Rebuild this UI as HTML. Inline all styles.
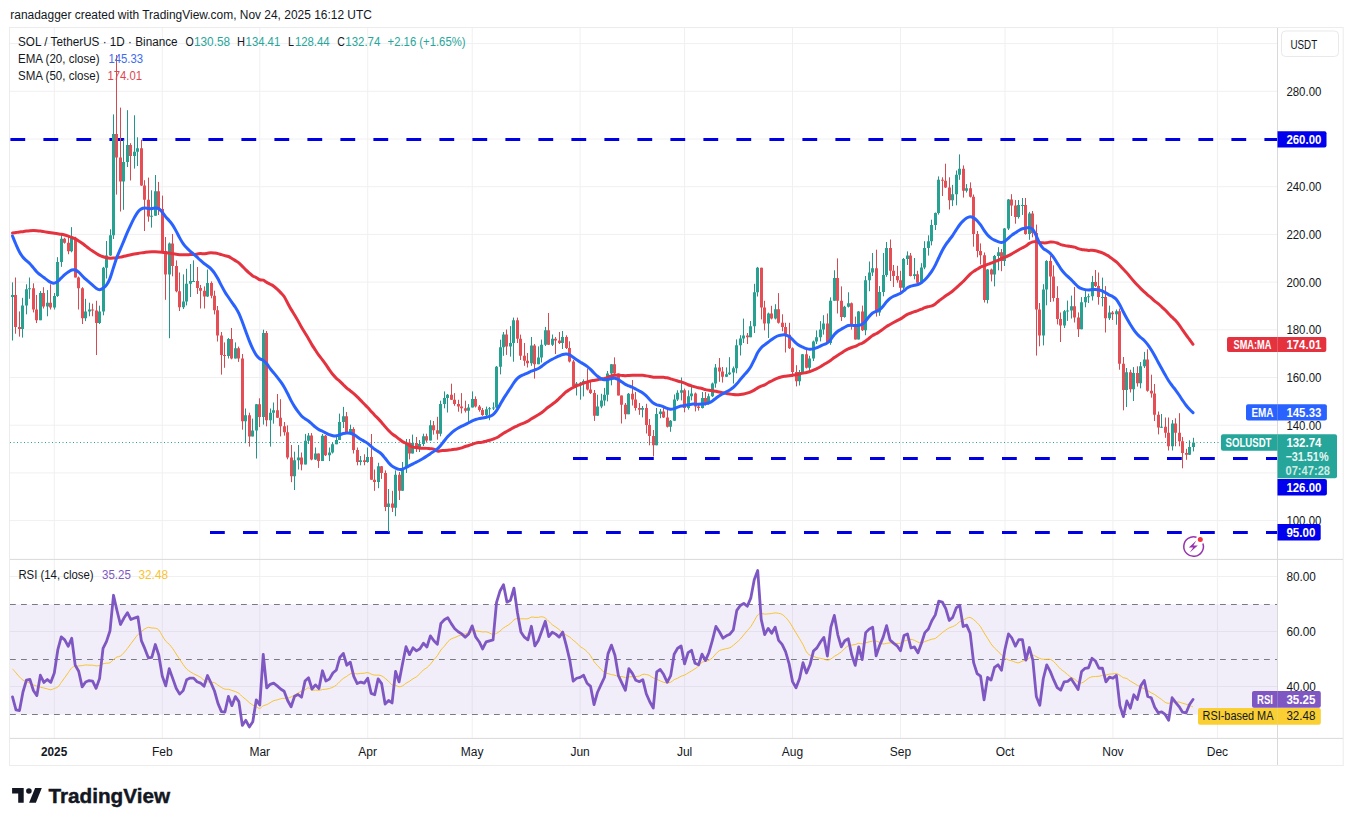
<!DOCTYPE html><html><head><meta charset="utf-8"><style>html,body{margin:0;padding:0;background:#fff;width:1353px;height:826px;overflow:hidden}</style></head><body><svg width="1353" height="826" viewBox="0 0 1353 826" style="display:block;font-family:'Liberation Sans', sans-serif">
<rect width="1353" height="826" fill="#ffffff"/>
<defs><clipPath id="cmain"><rect x="10" y="28" width="1267" height="531"/></clipPath><clipPath id="crsi"><rect x="10" y="560" width="1267" height="178"/></clipPath></defs>
<text x="10.3" y="19.2" font-size="12" fill="#131722" textLength="361.6" lengthAdjust="spacingAndGlyphs">ranadagger created with TradingView.com, Nov 24, 2025 16:12 UTC</text>
<line x1="10" y1="43.6" x2="1277" y2="43.6" stroke="#f0f0f2" stroke-width="1"/>
<line x1="10" y1="91.3" x2="1277" y2="91.3" stroke="#f0f0f2" stroke-width="1"/>
<line x1="10" y1="139.0" x2="1277" y2="139.0" stroke="#f0f0f2" stroke-width="1"/>
<line x1="10" y1="186.7" x2="1277" y2="186.7" stroke="#f0f0f2" stroke-width="1"/>
<line x1="10" y1="234.4" x2="1277" y2="234.4" stroke="#f0f0f2" stroke-width="1"/>
<line x1="10" y1="282.1" x2="1277" y2="282.1" stroke="#f0f0f2" stroke-width="1"/>
<line x1="10" y1="329.8" x2="1277" y2="329.8" stroke="#f0f0f2" stroke-width="1"/>
<line x1="10" y1="377.5" x2="1277" y2="377.5" stroke="#f0f0f2" stroke-width="1"/>
<line x1="10" y1="425.2" x2="1277" y2="425.2" stroke="#f0f0f2" stroke-width="1"/>
<line x1="10" y1="472.9" x2="1277" y2="472.9" stroke="#f0f0f2" stroke-width="1"/>
<line x1="10" y1="520.6" x2="1277" y2="520.6" stroke="#f0f0f2" stroke-width="1"/>
<line x1="10" y1="576.5" x2="1277" y2="576.5" stroke="#f0f0f2" stroke-width="1"/>
<line x1="10" y1="631.5" x2="1277" y2="631.5" stroke="#f0f0f2" stroke-width="1"/>
<line x1="10" y1="686.5" x2="1277" y2="686.5" stroke="#f0f0f2" stroke-width="1"/>
<line x1="54.3" y1="28" x2="54.3" y2="738" stroke="#f0f0f2" stroke-width="1"/>
<line x1="162.3" y1="28" x2="162.3" y2="738" stroke="#f0f0f2" stroke-width="1"/>
<line x1="259.8" y1="28" x2="259.8" y2="738" stroke="#f0f0f2" stroke-width="1"/>
<line x1="367.7" y1="28" x2="367.7" y2="738" stroke="#f0f0f2" stroke-width="1"/>
<line x1="472.2" y1="28" x2="472.2" y2="738" stroke="#f0f0f2" stroke-width="1"/>
<line x1="580.1" y1="28" x2="580.1" y2="738" stroke="#f0f0f2" stroke-width="1"/>
<line x1="684.6" y1="28" x2="684.6" y2="738" stroke="#f0f0f2" stroke-width="1"/>
<line x1="792.5" y1="28" x2="792.5" y2="738" stroke="#f0f0f2" stroke-width="1"/>
<line x1="900.5" y1="28" x2="900.5" y2="738" stroke="#f0f0f2" stroke-width="1"/>
<line x1="1005.0" y1="28" x2="1005.0" y2="738" stroke="#f0f0f2" stroke-width="1"/>
<line x1="1112.9" y1="28" x2="1112.9" y2="738" stroke="#f0f0f2" stroke-width="1"/>
<line x1="1217.4" y1="28" x2="1217.4" y2="738" stroke="#f0f0f2" stroke-width="1"/>
<rect x="10" y="604.5" width="1267.5" height="110" fill="#7e57c2" fill-opacity="0.1"/>
<line x1="10" y1="604.5" x2="1277" y2="604.5" stroke="#787b86" stroke-width="1" stroke-dasharray="5.8,5.2"/>
<line x1="10" y1="659.5" x2="1277" y2="659.5" stroke="#787b86" stroke-width="1" stroke-dasharray="5.8,5.2"/>
<line x1="10" y1="714.5" x2="1277" y2="714.5" stroke="#787b86" stroke-width="1" stroke-dasharray="5.8,5.2"/>
<rect x="9.5" y="27.5" width="1333.7" height="738.0" fill="none" stroke="#ececec" stroke-width="1"/>
<line x1="10" y1="559.4" x2="1343" y2="559.4" stroke="#d9d9db" stroke-width="1"/>
<line x1="10" y1="738.4" x2="1343" y2="738.4" stroke="#d9d9db" stroke-width="1"/>
<line x1="1277.5" y1="28" x2="1277.5" y2="765" stroke="#d9d9db" stroke-width="1"/>
<line x1="10.4" y1="139.5" x2="1277" y2="139.5" stroke="#0000e6" stroke-width="3" stroke-dasharray="14.8,18.2"/>
<line x1="573" y1="458.5" x2="1277" y2="458.5" stroke="#0000e6" stroke-width="3" stroke-dasharray="14.8,18.2"/>
<line x1="210" y1="532.5" x2="1277" y2="532.5" stroke="#0000e6" stroke-width="3" stroke-dasharray="14.8,18.2"/>
<line x1="10" y1="442.5" x2="1277" y2="442.5" stroke="#26a192" stroke-width="1" stroke-dasharray="1,2.5"/>
<g clip-path="url(#cmain)">
<path d="M12.50,282.36V340.50M22.50,297.87V337.60M26.50,284.30V314.34M29.50,277.52V298.84M40.50,291.09V320.16M47.50,290.12V316.28M54.50,293.02V309.50M57.50,257.17V296.90M61.50,234.88V266.86M71.50,227.13V252.33M85.50,298.84V321.12M89.50,302.71V316.28M99.50,305.62V324.03M103.50,266.86V315.31M106.50,241.00V278.50M110.50,229.30V256.00M113.50,114.40V239.00M123.50,139.80V209.80M127.50,110.20V167.00M134.50,115.30V168.60M137.50,137.30V166.00M151.50,190.30V227.60M155.50,175.00V215.80M169.50,242.50V338.20M183.50,274.40V309.00M186.50,268.80V305.40M190.50,264.00V297.00M193.50,260.40V282.00M207.50,269.50V297.00M228.50,338.00V358.50M235.50,342.40V358.50M245.50,408.50V443.20M252.50,418.60V436.40M256.50,404.00V458.50M263.50,329.70V424.60M270.50,408.50V446.60M273.50,402.50V423.70M294.50,451.70V490.00M298.50,445.00V469.50M305.50,433.90V464.40M308.50,433.00V444.00M315.50,447.50V460.00M322.50,434.00V461.10M329.50,447.50V461.10M332.50,442.50V453.50M336.50,435.70V444.20M339.50,413.60V440.00M343.50,406.90V428.00M350.50,424.70V433.10M360.50,456.00V465.30M367.50,447.50V462.70M378.50,462.80V488.20M388.50,489.00V532.00M395.50,470.40V516.20M402.50,462.00V490.80M406.50,439.00V473.00M412.50,434.60V453.50M419.50,440.00V452.00M423.50,433.70V446.00M430.50,420.20V440.50M440.50,400.70V436.30M444.50,391.40V408.30M447.50,394.00V412.50M468.50,404.10V422.70M472.50,391.40V407.50M486.50,406.60V418.50M489.50,407.00V420.20M493.50,402.40V410.00M496.50,366.00V408.00M500.50,339.70V374.40M503.50,332.00V355.80M510.50,326.10V356.60M513.50,317.60V361.70M531.50,337.00V365.80M538.50,346.40V364.20M541.50,339.60V362.50M545.50,326.90V346.00M552.50,334.50V346.00M562.50,331.00V349.00M576.50,382.00V395.50M580.50,382.00V399.70M583.50,379.40V396.40M597.50,394.70V415.80M601.50,393.80V408.20M604.50,387.90V405.70M607.50,371.00V401.40M611.50,364.00V385.30M628.50,393.00V414.20M642.50,406.00V417.40M656.50,408.00V445.30M660.50,409.00V418.20M670.50,420.00V431.80M674.50,394.50V421.00M677.50,390.30V401.00M681.50,377.50V400.40M688.50,390.30V409.70M691.50,386.90V400.40M702.50,392.00V408.50M708.50,393.60V404.60M712.50,382.60V397.00M715.50,364.00V387.70M726.50,367.40V377.00M729.50,357.20V375.00M733.50,366.50V383.50M736.50,339.40V373.30M740.50,335.20V355.50M743.50,318.60V343.00M750.50,321.00V337.20M754.50,283.80V333.00M757.50,266.90V296.50M768.50,312.60V338.00M775.50,304.20V319.40M799.50,370.00V385.50M802.50,354.00V372.80M809.50,355.80V372.00M813.50,340.60V361.00M816.50,330.40V344.00M820.50,321.10V341.40M823.50,315.20V334.60M830.50,297.40V344.80M834.50,270.30V300.80M844.50,305.80V317.70M848.50,292.30V307.50M858.50,311.00V339.50M865.50,276.00V335.20M869.50,261.50V291.20M872.50,253.00V276.00M879.50,286.10V315.80M883.50,253.00V296.30M886.50,242.00V276.80M903.50,258.00V289.50M907.50,251.40V265.00M914.50,258.00V279.30M921.50,263.20V283.00M924.50,241.20V269.20M928.50,235.30V255.60M931.50,219.70V245.40M935.50,212.50V230.00M938.50,176.40V214.60M952.50,184.90V206.10M956.50,170.50V205.30M959.50,154.40V179.80M966.50,184.10V192.50M987.50,269.00V303.40M994.50,255.00V286.40M998.50,247.20V270.30M1004.50,228.00V266.00M1008.50,199.00V230.00M1018.50,200.00V218.60M1022.50,198.00V215.00M1029.50,211.90V239.80M1043.50,284.20V345.40M1046.50,260.20V305.30M1064.50,310.00V328.00M1067.50,300.60V320.90M1071.50,295.60V318.50M1081.50,297.10V329.30M1085.50,290.30V307.30M1088.50,293.70V303.00M1092.50,275.90V300.50M1102.50,277.60V306.40M1109.50,305.60V320.00M1116.50,309.50V324.70M1126.50,368.00V407.00M1133.50,367.10V401.00M1140.50,362.00V388.30M1144.50,351.90V368.00M1161.50,414.00V428.00M1172.50,420.00V450.50M1189.50,440.30V455.00M1193.50,437.80V451.40" stroke="#23958a" stroke-width="1" fill="none"/>
<path d="M15.50,277.52V333.72M19.50,311.43V336.63M33.50,283.33V312.40M36.50,294.96V323.06M43.50,287.21V308.53M50.50,284.30V309.50M64.50,237.79V243.60M68.50,236.82V254.26M75.50,236.82V277.52M78.50,276.55V309.50M82.50,287.21V324.03M92.50,303.68V316.28M96.50,300.78V355.04M116.50,55.00V194.60M120.50,107.60V211.50M130.50,143.20V180.50M141.50,139.80V186.00M144.50,180.20V231.00M148.50,177.60V221.70M158.50,181.90V215.00M162.50,195.60V252.00M165.50,237.00V299.80M172.50,234.00V276.30M176.50,260.40V292.30M179.50,272.50V311.00M197.50,267.00V294.00M200.50,285.00V308.50M204.50,286.40V308.50M211.50,281.40V298.30M214.50,290.70V314.40M217.50,306.00V341.50M221.50,332.00V374.60M224.50,342.40V367.80M231.50,328.00V359.30M238.50,346.60V361.90M242.50,354.00V429.70M249.50,412.70V446.60M259.50,398.30V427.10M266.50,331.00V426.30M277.50,394.00V418.00M280.50,399.20V436.40M284.50,422.00V435.60M287.50,425.40V459.30M291.50,445.00V482.20M301.50,452.50V470.30M311.50,433.10V460.30M318.50,453.50V467.90M325.50,435.00V456.00M346.50,412.00V433.10M353.50,427.20V453.50M357.50,447.50V465.30M364.50,454.30V465.30M371.50,434.00V479.70M374.50,469.50V490.80M381.50,466.00V478.90M385.50,470.40V511.10M392.50,490.80V512.00M399.50,472.00V500.00M409.50,439.00V459.40M416.50,437.00V452.00M426.50,433.70V442.20M433.50,421.00V434.60M437.50,416.80V439.70M451.50,383.70V400.00M454.50,393.10V405.80M458.50,399.80V411.70M461.50,393.10V413.40M465.50,400.70V412.50M475.50,396.40V407.50M479.50,405.00V411.70M482.50,408.00V415.90M506.50,329.50V354.90M517.50,317.60V343.00M520.50,334.60V360.00M524.50,343.00V365.80M527.50,353.00V367.50M534.50,344.00V378.60M548.50,313.00V345.00M555.50,337.00V354.00M559.50,332.00V344.00M566.50,335.30V349.00M569.50,341.30V362.50M573.50,360.00V386.20M587.50,368.40V390.40M590.50,382.00V394.00M594.50,390.00V420.90M614.50,357.40V374.00M618.50,373.50V395.50M621.50,395.50V423.50M625.50,403.00V419.20M632.50,380.00V405.50M635.50,392.00V410.60M639.50,403.00V414.80M646.50,403.80V433.50M649.50,419.00V445.30M653.50,430.00V456.40M663.50,407.20V418.00M667.50,407.20V427.50M684.50,388.60V412.30M695.50,392.50V411.40M698.50,404.60V410.60M705.50,392.00V405.50M719.50,358.00V381.80M722.50,367.00V382.60M747.50,333.00V344.00M761.50,267.70V319.40M764.50,300.80V330.40M771.50,305.80V319.40M778.50,293.10V323.60M782.50,314.30V331.30M785.50,322.80V352.50M789.50,322.80V349.00M792.50,347.40V377.00M796.50,365.20V386.40M806.50,349.90V368.50M827.50,313.50V344.00M837.50,258.40V313.50M841.50,286.40V321.00M851.50,302.50V329.60M855.50,316.60V339.50M862.50,305.60V331.00M876.50,249.70V316.60M890.50,239.50V281.00M893.50,265.00V287.00M897.50,265.80V282.70M900.50,270.80V294.60M910.50,253.00V276.40M917.50,270.80V283.00M942.50,177.30V196.00M945.50,163.70V188.00M949.50,177.30V209.50M963.50,165.40V197.60M970.50,182.40V197.50M973.50,194.50V246.70M977.50,231.00V257.30M980.50,243.40V264.50M984.50,252.50V302.50M991.50,268.60V281.40M1001.50,249.00V271.20M1011.50,194.20V216.00M1015.50,200.00V223.70M1025.50,198.00V234.70M1032.50,211.00V237.30M1036.50,224.60V355.60M1039.50,303.00V346.30M1050.50,256.00V302.00M1053.50,265.30V301.50M1057.50,286.20V324.40M1060.50,312.50V342.00M1074.50,287.00V322.50M1078.50,312.40V337.00M1095.50,270.00V287.00M1098.50,272.50V304.70M1105.50,286.10V332.50M1112.50,311.00V320.00M1119.50,308.60V369.70M1123.50,357.00V410.30M1130.50,369.70V392.50M1137.50,366.30V386.60M1147.50,349.30V391.70M1151.50,374.70V397.60M1154.50,384.00V421.00M1158.50,411.50V434.40M1165.50,417.50V437.80M1168.50,417.50V450.50M1175.50,418.30V446.30M1179.50,413.20V446.30M1182.50,437.00V468.30M1186.50,448.80V459.80" stroke="#d34a50" stroke-width="1" fill="none"/>
<path d="M11.00,294.96h3V296.90h-3ZM21.00,305.62h3V328.88h-3ZM25.00,289.15h3V305.62h-3ZM28.00,288.18h3V289.18h-3ZM39.00,293.02h3V320.16h-3ZM46.00,302.71h3V306.59h-3ZM53.00,295.93h3V307.56h-3ZM56.00,262.02h3V295.93h-3ZM60.00,238.76h3V262.02h-3ZM70.00,237.79h3V251.36h-3ZM84.00,311.43h3V318.22h-3ZM88.00,309.50h3V311.43h-3ZM98.00,311.43h3V323.06h-3ZM102.00,267.83h3V311.43h-3ZM105.00,255.60h3V267.83h-3ZM109.00,235.30h3V255.60h-3ZM112.00,133.90h3V235.30h-3ZM122.00,161.90h3V181.40h-3ZM126.00,144.90h3V161.90h-3ZM133.00,151.70h3V155.90h-3ZM136.00,148.30h3V151.70h-3ZM150.00,215.80h3V216.80h-3ZM154.00,191.20h3V215.80h-3ZM168.00,243.50h3V274.40h-3ZM182.00,301.60h3V307.30h-3ZM185.00,283.80h3V301.60h-3ZM189.00,281.00h3V283.80h-3ZM192.00,281.00h3V282.00h-3ZM206.00,283.00h3V296.60h-3ZM227.00,339.00h3V355.90h-3ZM234.00,348.30h3V358.50h-3ZM244.00,415.30h3V421.20h-3ZM251.00,430.50h3V436.40h-3ZM255.00,404.20h3V430.50h-3ZM262.00,333.00h3V417.00h-3ZM269.00,412.70h3V420.30h-3ZM272.00,410.20h3V412.70h-3ZM293.00,460.20h3V476.30h-3ZM297.00,457.60h3V460.20h-3ZM304.00,440.70h3V464.40h-3ZM307.00,435.60h3V440.70h-3ZM314.00,453.50h3V459.40h-3ZM321.00,435.70h3V461.10h-3ZM328.00,452.60h3V455.20h-3ZM331.00,444.20h3V452.60h-3ZM335.00,439.90h3V444.20h-3ZM338.00,422.10h3V439.90h-3ZM342.00,416.20h3V422.10h-3ZM349.00,428.90h3V433.10h-3ZM359.00,460.30h3V462.00h-3ZM366.00,456.90h3V462.00h-3ZM377.00,466.20h3V482.00h-3ZM387.00,503.50h3V506.90h-3ZM394.00,474.70h3V507.70h-3ZM401.00,467.90h3V490.80h-3ZM405.00,442.50h3V467.90h-3ZM411.00,443.00h3V453.50h-3ZM418.00,444.00h3V447.00h-3ZM422.00,436.30h3V444.00h-3ZM429.00,425.30h3V440.50h-3ZM439.00,404.10h3V433.70h-3ZM443.00,398.10h3V404.10h-3ZM446.00,394.70h3V398.10h-3ZM467.00,407.50h3V410.80h-3ZM471.00,399.00h3V407.50h-3ZM485.00,409.20h3V415.10h-3ZM488.00,408.30h3V409.30h-3ZM492.00,407.50h3V408.50h-3ZM495.00,366.80h3V407.50h-3ZM499.00,347.30h3V366.80h-3ZM502.00,334.60h3V347.30h-3ZM509.00,343.00h3V346.40h-3ZM512.00,320.20h3V343.00h-3ZM530.00,345.50h3V363.30h-3ZM537.00,357.40h3V364.20h-3ZM540.00,344.70h3V357.40h-3ZM544.00,330.30h3V344.70h-3ZM551.00,338.70h3V344.70h-3ZM561.00,337.00h3V343.00h-3ZM575.00,383.60h3V386.20h-3ZM579.00,382.80h3V383.80h-3ZM582.00,381.10h3V382.80h-3ZM596.00,406.50h3V415.80h-3ZM600.00,400.60h3V406.50h-3ZM603.00,394.70h3V400.60h-3ZM606.00,373.50h3V394.70h-3ZM610.00,364.20h3V373.50h-3ZM627.00,393.80h3V414.20h-3ZM641.00,408.00h3V409.70h-3ZM655.00,414.00h3V445.30h-3ZM659.00,411.40h3V414.00h-3ZM669.00,420.80h3V426.70h-3ZM673.00,399.60h3V420.80h-3ZM676.00,392.80h3V399.60h-3ZM680.00,390.30h3V392.80h-3ZM687.00,396.20h3V408.00h-3ZM690.00,393.60h3V396.20h-3ZM701.00,397.90h3V408.00h-3ZM707.00,396.20h3V403.80h-3ZM711.00,383.50h3V396.20h-3ZM714.00,367.40h3V383.50h-3ZM725.00,374.20h3V376.70h-3ZM728.00,372.50h3V374.20h-3ZM732.00,368.20h3V372.50h-3ZM735.00,345.30h3V368.20h-3ZM739.00,338.60h3V345.30h-3ZM742.00,335.50h3V338.60h-3ZM749.00,326.20h3V337.20h-3ZM753.00,292.30h3V326.20h-3ZM756.00,267.70h3V292.30h-3ZM767.00,313.50h3V323.60h-3ZM774.00,309.20h3V318.60h-3ZM798.00,372.00h3V381.30h-3ZM801.00,354.20h3V372.00h-3ZM808.00,358.40h3V367.70h-3ZM812.00,341.40h3V358.40h-3ZM815.00,337.20h3V341.40h-3ZM819.00,329.60h3V337.20h-3ZM822.00,323.60h3V329.60h-3ZM829.00,300.80h3V343.10h-3ZM833.00,277.90h3V300.80h-3ZM843.00,306.70h3V316.90h-3ZM847.00,303.30h3V306.70h-3ZM857.00,311.50h3V339.50h-3ZM864.00,280.20h3V330.20h-3ZM868.00,272.50h3V280.20h-3ZM871.00,268.30h3V272.50h-3ZM878.00,292.00h3V312.40h-3ZM882.00,275.10h3V292.00h-3ZM885.00,248.00h3V275.10h-3ZM902.00,259.00h3V287.80h-3ZM906.00,255.60h3V259.00h-3ZM913.00,274.20h3V276.00h-3ZM920.00,267.50h3V282.70h-3ZM923.00,248.00h3V267.50h-3ZM927.00,241.20h3V248.00h-3ZM930.00,225.10h3V241.20h-3ZM934.00,212.90h3V225.10h-3ZM937.00,179.80h3V212.90h-3ZM951.00,194.20h3V200.20h-3ZM955.00,174.70h3V194.20h-3ZM958.00,168.80h3V174.70h-3ZM965.00,188.30h3V190.80h-3ZM986.00,269.50h3V300.00h-3ZM993.00,256.00h3V274.60h-3ZM997.00,252.20h3V256.00h-3ZM1003.00,228.50h3V261.10h-3ZM1007.00,199.50h3V228.50h-3ZM1017.00,205.10h3V216.90h-3ZM1021.00,205.10h3V206.10h-3ZM1028.00,213.60h3V233.90h-3ZM1042.00,289.50h3V335.40h-3ZM1045.00,261.00h3V289.50h-3ZM1063.00,311.30h3V325.60h-3ZM1066.00,310.50h3V311.50h-3ZM1070.00,306.20h3V310.50h-3ZM1080.00,302.20h3V329.30h-3ZM1084.00,297.10h3V302.20h-3ZM1087.00,296.30h3V297.30h-3ZM1091.00,281.90h3V296.30h-3ZM1101.00,297.10h3V298.10h-3ZM1108.00,312.60h3V318.20h-3ZM1115.00,311.20h3V314.30h-3ZM1125.00,372.20h3V390.00h-3ZM1132.00,373.00h3V389.20h-3ZM1139.00,366.30h3V383.20h-3ZM1143.00,359.50h3V366.30h-3ZM1160.00,426.80h3V427.80h-3ZM1171.00,423.40h3V446.30h-3ZM1188.00,447.10h3V454.70h-3ZM1192.00,442.50h3V447.10h-3Z" fill="#26a192"/>
<path d="M14.00,294.96h3V326.94h-3ZM18.00,326.94h3V328.88h-3ZM32.00,288.18h3V309.50h-3ZM35.00,309.50h3V320.16h-3ZM42.00,293.02h3V306.59h-3ZM49.00,302.71h3V307.56h-3ZM63.00,238.76h3V242.64h-3ZM67.00,242.64h3V251.36h-3ZM74.00,237.79h3V277.52h-3ZM77.00,277.52h3V288.18h-3ZM81.00,288.18h3V318.22h-3ZM91.00,309.50h3V310.50h-3ZM95.00,310.47h3V323.06h-3ZM115.00,133.90h3V157.60h-3ZM119.00,157.60h3V181.40h-3ZM129.00,144.90h3V155.90h-3ZM140.00,148.30h3V185.60h-3ZM143.00,185.60h3V199.70h-3ZM147.00,199.70h3V216.60h-3ZM157.00,191.20h3V209.00h-3ZM161.00,209.00h3V251.00h-3ZM164.00,251.00h3V274.40h-3ZM171.00,243.50h3V266.00h-3ZM175.00,266.00h3V291.30h-3ZM178.00,291.30h3V307.30h-3ZM196.00,281.00h3V288.10h-3ZM199.00,288.10h3V290.70h-3ZM203.00,290.70h3V296.60h-3ZM210.00,283.00h3V295.80h-3ZM213.00,295.80h3V310.20h-3ZM216.00,310.20h3V335.60h-3ZM220.00,335.60h3V355.00h-3ZM223.00,355.00h3V356.00h-3ZM230.00,339.00h3V358.50h-3ZM237.00,348.30h3V358.50h-3ZM241.00,358.50h3V421.20h-3ZM248.00,415.30h3V436.40h-3ZM258.00,404.20h3V417.00h-3ZM265.00,333.00h3V420.30h-3ZM276.00,410.20h3V417.80h-3ZM279.00,417.80h3V426.30h-3ZM283.00,426.30h3V432.20h-3ZM286.00,432.20h3V457.60h-3ZM290.00,457.60h3V476.30h-3ZM300.00,457.60h3V464.40h-3ZM310.00,435.60h3V459.40h-3ZM317.00,453.50h3V461.10h-3ZM324.00,435.70h3V455.20h-3ZM345.00,416.20h3V433.10h-3ZM352.00,428.90h3V450.10h-3ZM356.00,450.10h3V462.00h-3ZM363.00,460.30h3V462.00h-3ZM370.00,456.90h3V479.70h-3ZM373.00,479.70h3V482.00h-3ZM380.00,466.20h3V473.00h-3ZM384.00,473.00h3V506.90h-3ZM391.00,503.50h3V507.70h-3ZM398.00,474.70h3V490.80h-3ZM408.00,442.50h3V453.50h-3ZM415.00,443.00h3V447.00h-3ZM425.00,436.30h3V440.50h-3ZM432.00,425.30h3V430.30h-3ZM436.00,430.30h3V433.70h-3ZM450.00,394.70h3V399.80h-3ZM453.00,399.80h3V404.10h-3ZM457.00,404.10h3V406.60h-3ZM460.00,406.60h3V408.30h-3ZM464.00,408.30h3V410.80h-3ZM474.00,399.00h3V406.60h-3ZM478.00,406.60h3V410.00h-3ZM481.00,410.00h3V415.10h-3ZM505.00,334.60h3V346.40h-3ZM516.00,320.20h3V338.80h-3ZM519.00,338.80h3V355.80h-3ZM523.00,355.80h3V360.80h-3ZM526.00,360.80h3V363.30h-3ZM533.00,345.50h3V364.20h-3ZM547.00,330.30h3V344.70h-3ZM554.00,338.70h3V340.40h-3ZM558.00,340.40h3V343.00h-3ZM565.00,337.00h3V348.00h-3ZM568.00,348.00h3V361.60h-3ZM572.00,361.60h3V386.20h-3ZM586.00,381.10h3V389.60h-3ZM589.00,389.60h3V393.00h-3ZM593.00,393.00h3V415.80h-3ZM613.00,364.20h3V373.50h-3ZM617.00,373.50h3V395.50h-3ZM620.00,395.50h3V404.80h-3ZM624.00,404.80h3V414.20h-3ZM631.00,393.80h3V399.60h-3ZM634.00,399.60h3V408.00h-3ZM638.00,408.00h3V409.70h-3ZM645.00,408.00h3V425.00h-3ZM648.00,425.00h3V436.00h-3ZM652.00,436.00h3V445.30h-3ZM662.00,411.40h3V417.40h-3ZM666.00,417.40h3V426.70h-3ZM683.00,390.30h3V408.00h-3ZM694.00,393.60h3V406.40h-3ZM697.00,406.40h3V408.00h-3ZM704.00,397.90h3V403.80h-3ZM718.00,367.40h3V371.60h-3ZM721.00,371.60h3V376.70h-3ZM746.00,335.50h3V337.20h-3ZM760.00,267.70h3V307.50h-3ZM763.00,307.50h3V323.60h-3ZM770.00,313.50h3V318.60h-3ZM777.00,309.20h3V322.80h-3ZM781.00,322.80h3V327.00h-3ZM784.00,327.00h3V334.70h-3ZM788.00,334.70h3V348.20h-3ZM791.00,348.20h3V372.00h-3ZM795.00,372.00h3V381.30h-3ZM805.00,354.20h3V367.70h-3ZM826.00,323.60h3V343.10h-3ZM836.00,277.90h3V300.80h-3ZM840.00,300.80h3V316.90h-3ZM850.00,303.30h3V324.50h-3ZM854.00,324.50h3V339.50h-3ZM861.00,311.50h3V330.20h-3ZM875.00,268.30h3V312.40h-3ZM889.00,248.00h3V270.80h-3ZM892.00,270.80h3V276.00h-3ZM896.00,276.00h3V280.20h-3ZM899.00,280.20h3V287.80h-3ZM909.00,255.60h3V276.00h-3ZM916.00,274.20h3V282.70h-3ZM941.00,179.80h3V180.80h-3ZM944.00,180.70h3V187.50h-3ZM948.00,187.50h3V200.20h-3ZM962.00,168.80h3V190.80h-3ZM969.00,188.30h3V196.80h-3ZM972.00,196.80h3V233.90h-3ZM976.00,233.90h3V250.90h-3ZM979.00,250.90h3V255.20h-3ZM983.00,255.20h3V300.00h-3ZM990.00,269.50h3V274.60h-3ZM1000.00,252.20h3V261.10h-3ZM1010.00,199.50h3V205.50h-3ZM1014.00,205.50h3V216.90h-3ZM1024.00,205.10h3V233.90h-3ZM1031.00,213.60h3V233.00h-3ZM1035.00,233.00h3V309.60h-3ZM1038.00,309.60h3V335.40h-3ZM1049.00,261.00h3V276.60h-3ZM1052.00,276.60h3V298.10h-3ZM1056.00,298.10h3V318.90h-3ZM1059.00,318.90h3V325.60h-3ZM1073.00,306.20h3V317.50h-3ZM1077.00,317.50h3V329.30h-3ZM1094.00,281.90h3V286.10h-3ZM1097.00,286.10h3V297.10h-3ZM1104.00,297.10h3V318.20h-3ZM1111.00,312.60h3V314.30h-3ZM1118.00,311.20h3V363.70h-3ZM1122.00,363.70h3V390.00h-3ZM1129.00,372.20h3V389.20h-3ZM1136.00,373.00h3V383.20h-3ZM1146.00,359.50h3V390.80h-3ZM1150.00,390.80h3V393.40h-3ZM1153.00,393.40h3V414.80h-3ZM1157.00,414.80h3V427.60h-3ZM1164.00,426.80h3V432.70h-3ZM1167.00,432.70h3V446.30h-3ZM1174.00,423.40h3V432.70h-3ZM1178.00,432.70h3V441.20h-3ZM1181.00,441.20h3V453.00h-3ZM1185.00,453.00h3V454.70h-3Z" fill="#e54e54"/>
</g>
<path d="M12.51,233.09 C13.09,233.00 14.83,232.72 15.99,232.54 C17.16,232.35 18.32,232.13 19.48,231.99 C20.64,231.84 21.80,231.83 22.96,231.67 C24.12,231.52 25.28,231.22 26.44,231.05 C27.60,230.88 28.76,230.76 29.92,230.67 C31.08,230.59 32.25,230.54 33.41,230.54 C34.57,230.54 35.73,230.57 36.89,230.65 C38.05,230.73 39.21,230.85 40.37,231.01 C41.53,231.16 42.69,231.40 43.85,231.61 C45.01,231.81 46.17,232.01 47.34,232.21 C48.50,232.41 49.66,232.60 50.82,232.78 C51.98,232.96 53.14,233.14 54.30,233.30 C55.46,233.47 56.62,233.61 57.78,233.77 C58.94,233.94 60.10,234.07 61.26,234.29 C62.43,234.50 63.59,234.75 64.75,235.05 C65.91,235.35 67.07,235.69 68.23,236.07 C69.39,236.45 70.55,236.87 71.71,237.34 C72.87,237.82 74.03,238.34 75.19,238.93 C76.35,239.53 77.52,240.18 78.68,240.90 C79.84,241.62 81.00,242.42 82.16,243.25 C83.32,244.08 84.48,245.00 85.64,245.89 C86.80,246.78 87.96,247.73 89.12,248.59 C90.28,249.46 91.44,250.28 92.61,251.08 C93.77,251.87 94.93,252.63 96.09,253.34 C97.25,254.04 98.41,254.75 99.57,255.32 C100.73,255.90 101.89,256.39 103.05,256.79 C104.21,257.20 105.37,257.51 106.53,257.74 C107.70,257.98 108.86,258.12 110.02,258.18 C111.18,258.23 112.34,258.15 113.50,258.08 C114.66,258.00 115.82,257.89 116.98,257.73 C118.14,257.58 119.30,257.38 120.46,257.14 C121.62,256.91 122.79,256.61 123.95,256.33 C125.11,256.06 126.27,255.78 127.43,255.51 C128.59,255.25 129.75,254.99 130.91,254.74 C132.07,254.50 133.23,254.26 134.39,254.04 C135.55,253.81 136.71,253.60 137.88,253.41 C139.04,253.21 140.20,253.03 141.36,252.86 C142.52,252.69 143.68,252.54 144.84,252.39 C146.00,252.25 147.16,252.10 148.32,252.01 C149.48,251.91 150.64,251.85 151.80,251.82 C152.97,251.78 154.13,251.77 155.29,251.78 C156.45,251.79 157.61,251.83 158.77,251.89 C159.93,251.96 161.09,252.05 162.25,252.16 C163.41,252.28 164.57,252.44 165.73,252.59 C166.89,252.73 168.06,252.84 169.22,253.04 C170.38,253.23 171.54,253.52 172.70,253.74 C173.86,253.95 175.02,254.17 176.18,254.33 C177.34,254.49 178.50,254.60 179.66,254.68 C180.82,254.76 181.98,254.78 183.15,254.79 C184.31,254.79 185.47,254.77 186.63,254.73 C187.79,254.70 188.95,254.62 190.11,254.58 C191.27,254.53 192.43,254.55 193.59,254.47 C194.75,254.38 195.91,254.22 197.07,254.07 C198.24,253.92 199.40,253.62 200.56,253.56 C201.72,253.50 202.88,253.79 204.04,253.73 C205.20,253.67 206.36,253.37 207.52,253.20 C208.68,253.03 209.84,252.73 211.00,252.71 C212.16,252.69 213.33,252.90 214.49,253.05 C215.65,253.21 216.81,253.36 217.97,253.63 C219.13,253.90 220.29,254.34 221.45,254.68 C222.61,255.02 223.77,255.34 224.93,255.65 C226.09,255.95 227.25,256.04 228.42,256.51 C229.58,256.97 230.74,257.75 231.90,258.44 C233.06,259.12 234.22,259.88 235.38,260.63 C236.54,261.38 237.70,261.99 238.86,262.95 C240.02,263.90 241.18,265.18 242.34,266.34 C243.50,267.50 244.67,268.77 245.83,269.89 C246.99,271.01 248.15,272.07 249.31,273.07 C250.47,274.07 251.63,275.16 252.79,275.92 C253.95,276.68 255.11,277.00 256.27,277.64 C257.43,278.27 258.59,279.32 259.76,279.75 C260.92,280.18 262.08,279.77 263.24,280.22 C264.40,280.66 265.56,281.75 266.72,282.41 C267.88,283.08 269.04,283.58 270.20,284.21 C271.36,284.84 272.52,285.35 273.68,286.18 C274.85,287.01 276.01,288.11 277.17,289.18 C278.33,290.25 279.49,291.37 280.65,292.60 C281.81,293.82 282.97,294.80 284.13,296.53 C285.29,298.27 286.45,300.87 287.61,303.01 C288.77,305.15 289.94,307.39 291.10,309.38 C292.26,311.37 293.42,313.04 294.58,314.96 C295.74,316.87 296.90,318.82 298.06,320.87 C299.22,322.92 300.38,325.25 301.54,327.26 C302.70,329.28 303.86,331.06 305.03,332.96 C306.19,334.85 307.35,336.65 308.51,338.64 C309.67,340.62 310.83,342.93 311.99,344.86 C313.15,346.79 314.31,348.45 315.47,350.22 C316.63,351.98 317.79,353.84 318.95,355.44 C320.12,357.05 321.28,358.30 322.44,359.83 C323.60,361.35 324.76,362.94 325.92,364.61 C327.08,366.28 328.24,368.19 329.40,369.84 C330.56,371.50 331.72,373.13 332.88,374.55 C334.04,375.96 335.21,377.20 336.37,378.32 C337.53,379.45 338.69,380.21 339.85,381.28 C341.01,382.35 342.17,383.60 343.33,384.73 C344.49,385.86 345.65,387.06 346.81,388.07 C347.97,389.09 349.13,389.89 350.30,390.83 C351.46,391.76 352.62,392.67 353.78,393.68 C354.94,394.69 356.10,395.77 357.26,396.89 C358.42,398.01 359.58,399.23 360.74,400.42 C361.90,401.61 363.06,402.85 364.22,404.04 C365.39,405.23 366.55,406.33 367.71,407.56 C368.87,408.78 370.03,410.11 371.19,411.39 C372.35,412.67 373.51,414.01 374.67,415.22 C375.83,416.42 376.99,417.41 378.15,418.61 C379.31,419.81 380.48,421.07 381.64,422.41 C382.80,423.74 383.96,425.28 385.12,426.63 C386.28,427.98 387.44,429.28 388.60,430.50 C389.76,431.71 390.92,432.97 392.08,433.94 C393.24,434.91 394.40,435.48 395.57,436.33 C396.73,437.18 397.89,438.15 399.05,439.03 C400.21,439.91 401.37,440.90 402.53,441.61 C403.69,442.32 404.85,442.66 406.01,443.29 C407.17,443.92 408.33,444.76 409.49,445.39 C410.66,446.02 411.82,446.71 412.98,447.08 C414.14,447.45 415.30,447.42 416.46,447.60 C417.62,447.78 418.78,448.08 419.94,448.17 C421.10,448.27 422.26,448.14 423.42,448.17 C424.58,448.20 425.75,448.27 426.91,448.37 C428.07,448.47 429.23,448.68 430.39,448.79 C431.55,448.91 432.71,448.68 433.87,449.06 C435.03,449.44 436.19,450.79 437.35,451.07 C438.51,451.35 439.67,450.85 440.84,450.75 C442.00,450.65 443.16,450.56 444.32,450.46 C445.48,450.36 446.64,450.26 447.80,450.15 C448.96,450.03 450.12,449.92 451.28,449.79 C452.44,449.65 453.60,449.50 454.76,449.34 C455.93,449.18 457.09,449.08 458.25,448.83 C459.41,448.58 460.57,448.23 461.73,447.84 C462.89,447.46 464.05,446.93 465.21,446.53 C466.37,446.14 467.53,445.85 468.69,445.48 C469.85,445.11 471.02,444.70 472.18,444.31 C473.34,443.92 474.50,443.45 475.66,443.15 C476.82,442.86 477.98,442.71 479.14,442.54 C480.30,442.37 481.46,442.36 482.62,442.13 C483.78,441.89 484.94,441.44 486.11,441.12 C487.27,440.81 488.43,440.55 489.59,440.22 C490.75,439.89 491.91,439.56 493.07,439.15 C494.23,438.74 495.39,438.36 496.55,437.77 C497.71,437.18 498.87,436.36 500.03,435.61 C501.20,434.86 502.36,433.97 503.52,433.25 C504.68,432.53 505.84,431.94 507.00,431.30 C508.16,430.65 509.32,430.02 510.48,429.36 C511.64,428.70 512.80,427.92 513.96,427.32 C515.12,426.72 516.29,426.29 517.45,425.77 C518.61,425.26 519.77,424.71 520.93,424.23 C522.09,423.74 523.25,423.38 524.41,422.86 C525.57,422.35 526.73,421.81 527.89,421.13 C529.05,420.45 530.21,419.51 531.38,418.80 C532.54,418.09 533.70,417.54 534.86,416.88 C536.02,416.21 537.18,415.51 538.34,414.78 C539.50,414.06 540.66,413.41 541.82,412.54 C542.98,411.67 544.14,410.51 545.30,409.55 C546.47,408.60 547.63,407.69 548.79,406.81 C549.95,405.92 551.11,405.12 552.27,404.26 C553.43,403.39 554.59,402.59 555.75,401.60 C556.91,400.62 558.07,399.43 559.23,398.33 C560.39,397.22 561.56,396.08 562.72,395.00 C563.88,393.91 565.04,392.71 566.20,391.80 C567.36,390.89 568.52,390.27 569.68,389.54 C570.84,388.81 572.00,388.08 573.16,387.45 C574.32,386.82 575.48,386.24 576.64,385.76 C577.81,385.28 578.97,385.01 580.13,384.57 C581.29,384.13 582.45,383.54 583.61,383.12 C584.77,382.70 585.93,382.41 587.09,382.05 C588.25,381.69 589.41,381.25 590.57,380.97 C591.73,380.70 592.90,380.60 594.06,380.41 C595.22,380.21 596.38,380.04 597.54,379.81 C598.70,379.58 599.86,379.25 601.02,379.01 C602.18,378.78 603.34,378.69 604.50,378.40 C605.66,378.11 606.82,377.69 607.99,377.27 C609.15,376.84 610.31,376.21 611.47,375.88 C612.63,375.54 613.79,375.37 614.95,375.26 C616.11,375.15 617.27,375.19 618.43,375.21 C619.59,375.24 620.75,375.33 621.91,375.41 C623.08,375.50 624.24,375.69 625.40,375.70 C626.56,375.72 627.72,375.55 628.88,375.50 C630.04,375.44 631.20,375.38 632.36,375.36 C633.52,375.33 634.68,375.35 635.84,375.35 C637.00,375.35 638.17,375.33 639.33,375.33 C640.49,375.33 641.65,375.25 642.81,375.34 C643.97,375.43 645.13,375.67 646.29,375.86 C647.45,376.04 648.61,376.23 649.77,376.45 C650.93,376.66 652.09,377.04 653.26,377.15 C654.42,377.27 655.58,377.13 656.74,377.13 C657.90,377.13 659.06,377.14 660.22,377.17 C661.38,377.21 662.54,377.26 663.70,377.36 C664.86,377.45 666.02,377.50 667.18,377.74 C668.35,377.98 669.51,378.47 670.67,378.82 C671.83,379.17 672.99,379.50 674.15,379.87 C675.31,380.23 676.47,380.69 677.63,381.03 C678.79,381.37 679.95,381.55 681.11,381.91 C682.27,382.27 683.44,382.74 684.60,383.21 C685.76,383.68 686.92,384.29 688.08,384.73 C689.24,385.16 690.40,385.47 691.56,385.82 C692.72,386.18 693.88,386.51 695.04,386.84 C696.20,387.16 697.36,387.51 698.53,387.78 C699.69,388.05 700.85,388.16 702.01,388.47 C703.17,388.78 704.33,389.34 705.49,389.64 C706.65,389.94 707.81,390.08 708.97,390.28 C710.13,390.47 711.29,390.64 712.45,390.80 C713.62,390.96 714.78,391.04 715.94,391.25 C717.10,391.47 718.26,391.84 719.42,392.08 C720.58,392.32 721.74,392.50 722.90,392.72 C724.06,392.94 725.22,393.20 726.38,393.43 C727.54,393.66 728.71,393.88 729.87,394.07 C731.03,394.26 732.19,394.46 733.35,394.58 C734.51,394.69 735.67,394.75 736.83,394.74 C737.99,394.74 739.15,394.67 740.31,394.55 C741.47,394.44 742.63,394.28 743.80,394.03 C744.96,393.78 746.12,393.41 747.28,393.05 C748.44,392.70 749.60,392.40 750.76,391.90 C751.92,391.41 753.08,390.77 754.24,390.09 C755.40,389.41 756.56,388.48 757.72,387.83 C758.89,387.17 760.05,386.69 761.21,386.18 C762.37,385.68 763.53,385.37 764.69,384.80 C765.85,384.22 767.01,383.38 768.17,382.75 C769.33,382.12 770.49,381.59 771.65,380.99 C772.81,380.39 773.98,379.71 775.14,379.16 C776.30,378.62 777.46,378.12 778.62,377.73 C779.78,377.33 780.94,377.05 782.10,376.80 C783.26,376.54 784.42,376.39 785.58,376.21 C786.74,376.02 787.90,375.86 789.07,375.70 C790.23,375.54 791.39,375.39 792.55,375.23 C793.71,375.07 794.87,374.98 796.03,374.76 C797.19,374.54 798.35,374.19 799.51,373.92 C800.67,373.64 801.83,373.36 802.99,373.12 C804.16,372.89 805.32,372.76 806.48,372.49 C807.64,372.21 808.80,371.89 809.96,371.49 C811.12,371.10 812.28,370.59 813.44,370.13 C814.60,369.66 815.76,369.27 816.92,368.71 C818.08,368.16 819.25,367.50 820.41,366.80 C821.57,366.11 822.73,365.27 823.89,364.56 C825.05,363.84 826.21,363.23 827.37,362.51 C828.53,361.79 829.69,361.07 830.85,360.25 C832.01,359.43 833.17,358.41 834.34,357.58 C835.50,356.74 836.66,356.00 837.82,355.25 C838.98,354.49 840.14,353.80 841.30,353.05 C842.46,352.30 843.62,351.47 844.78,350.77 C845.94,350.07 847.10,349.39 848.26,348.84 C849.43,348.29 850.59,347.87 851.75,347.48 C852.91,347.08 854.07,346.95 855.23,346.46 C856.39,345.97 857.55,345.07 858.71,344.53 C859.87,343.99 861.03,343.81 862.19,343.21 C863.35,342.61 864.52,341.77 865.68,340.94 C866.84,340.12 868.00,339.18 869.16,338.26 C870.32,337.35 871.48,336.22 872.64,335.47 C873.80,334.72 874.96,334.42 876.12,333.76 C877.28,333.10 878.44,332.30 879.61,331.52 C880.77,330.75 881.93,329.96 883.09,329.10 C884.25,328.25 885.41,327.17 886.57,326.39 C887.73,325.62 888.89,325.10 890.05,324.46 C891.21,323.82 892.37,323.19 893.53,322.55 C894.70,321.91 895.86,321.23 897.02,320.62 C898.18,320.01 899.34,319.56 900.50,318.89 C901.66,318.22 902.82,317.37 903.98,316.62 C905.14,315.87 906.30,314.97 907.46,314.37 C908.62,313.76 909.79,313.43 910.95,312.98 C912.11,312.54 913.27,312.08 914.43,311.69 C915.59,311.30 916.75,311.05 917.91,310.64 C919.07,310.23 920.23,309.74 921.39,309.24 C922.55,308.75 923.71,308.11 924.87,307.68 C926.04,307.25 927.20,306.97 928.36,306.66 C929.52,306.35 930.68,306.26 931.84,305.81 C933.00,305.35 934.16,304.71 935.32,303.91 C936.48,303.12 937.64,301.96 938.80,301.04 C939.96,300.12 941.13,299.26 942.29,298.38 C943.45,297.50 944.61,296.56 945.77,295.76 C946.93,294.96 948.09,294.37 949.25,293.58 C950.41,292.79 951.57,291.94 952.73,291.01 C953.89,290.07 955.05,289.02 956.22,287.96 C957.38,286.90 958.54,285.72 959.70,284.64 C960.86,283.57 962.02,282.63 963.18,281.50 C964.34,280.36 965.50,279.05 966.66,277.82 C967.82,276.59 968.98,275.21 970.14,274.13 C971.31,273.06 972.47,272.17 973.63,271.37 C974.79,270.57 975.95,270.02 977.11,269.30 C978.27,268.58 979.43,267.62 980.59,267.05 C981.75,266.48 982.91,266.32 984.07,265.89 C985.23,265.45 986.40,264.90 987.56,264.45 C988.72,264.00 989.88,263.65 991.04,263.20 C992.20,262.74 993.36,262.21 994.52,261.72 C995.68,261.24 996.84,260.81 998.00,260.30 C999.16,259.78 1000.32,259.17 1001.49,258.66 C1002.65,258.14 1003.81,257.71 1004.97,257.21 C1006.13,256.71 1007.29,256.22 1008.45,255.64 C1009.61,255.06 1010.77,254.39 1011.93,253.74 C1013.09,253.08 1014.25,252.41 1015.41,251.74 C1016.58,251.06 1017.74,250.37 1018.90,249.70 C1020.06,249.04 1021.22,248.37 1022.38,247.74 C1023.54,247.11 1024.70,246.65 1025.86,245.93 C1027.02,245.21 1028.18,244.09 1029.34,243.41 C1030.50,242.73 1031.67,242.17 1032.83,241.84 C1033.99,241.51 1035.15,241.31 1036.31,241.43 C1037.47,241.54 1038.63,242.29 1039.79,242.53 C1040.95,242.77 1042.11,242.84 1043.27,242.87 C1044.43,242.90 1045.59,242.87 1046.76,242.73 C1047.92,242.58 1049.08,242.11 1050.24,242.01 C1051.40,241.91 1052.56,241.97 1053.72,242.13 C1054.88,242.30 1056.04,242.60 1057.20,243.01 C1058.36,243.41 1059.52,244.17 1060.68,244.56 C1061.85,244.95 1063.01,245.12 1064.17,245.37 C1065.33,245.62 1066.49,245.86 1067.65,246.06 C1068.81,246.26 1069.97,246.39 1071.13,246.58 C1072.29,246.77 1073.45,246.84 1074.61,247.17 C1075.77,247.51 1076.94,248.19 1078.10,248.58 C1079.26,248.97 1080.42,249.29 1081.58,249.51 C1082.74,249.74 1083.90,249.79 1085.06,249.93 C1086.22,250.08 1087.38,250.31 1088.54,250.38 C1089.70,250.45 1090.86,250.30 1092.03,250.36 C1093.19,250.42 1094.35,250.51 1095.51,250.73 C1096.67,250.96 1097.83,251.36 1098.99,251.71 C1100.15,252.06 1101.31,252.34 1102.47,252.83 C1103.63,253.33 1104.79,254.05 1105.95,254.69 C1107.12,255.34 1108.28,255.91 1109.44,256.69 C1110.60,257.47 1111.76,258.49 1112.92,259.38 C1114.08,260.26 1115.24,260.97 1116.40,261.99 C1117.56,263.01 1118.72,264.29 1119.88,265.51 C1121.04,266.73 1122.21,268.08 1123.37,269.31 C1124.53,270.53 1125.69,271.56 1126.85,272.87 C1128.01,274.18 1129.17,275.76 1130.33,277.16 C1131.49,278.55 1132.65,279.92 1133.81,281.24 C1134.97,282.56 1136.13,283.86 1137.30,285.09 C1138.46,286.32 1139.62,287.51 1140.78,288.65 C1141.94,289.79 1143.10,290.84 1144.26,291.90 C1145.42,292.97 1146.58,294.04 1147.74,295.04 C1148.90,296.04 1150.06,296.88 1151.22,297.89 C1152.39,298.90 1153.55,300.13 1154.71,301.08 C1155.87,302.04 1157.03,302.69 1158.19,303.64 C1159.35,304.59 1160.51,305.73 1161.67,306.78 C1162.83,307.83 1163.99,308.78 1165.15,309.94 C1166.31,311.11 1167.48,312.54 1168.64,313.75 C1169.80,314.96 1170.96,316.03 1172.12,317.17 C1173.28,318.32 1174.44,319.33 1175.60,320.61 C1176.76,321.89 1177.92,323.31 1179.08,324.86 C1180.24,326.41 1181.40,328.25 1182.57,329.93 C1183.73,331.61 1184.89,333.32 1186.05,334.91 C1187.21,336.51 1188.37,337.96 1189.53,339.52 C1190.69,341.08 1192.43,343.47 1193.01,344.27" stroke="#e5323f" stroke-width="3" fill="none" stroke-linejoin="round" stroke-linecap="round" clip-path="url(#cmain)"/>
<path d="M12.51,236.00 C13.09,237.42 14.83,241.84 15.99,244.50 C17.16,247.16 18.32,249.82 19.48,251.94 C20.64,254.05 21.80,255.76 22.96,257.21 C24.12,258.66 25.28,259.53 26.44,260.62 C27.60,261.72 28.76,262.57 29.92,263.78 C31.08,264.99 32.25,266.51 33.41,267.88 C34.57,269.24 35.73,270.78 36.89,271.96 C38.05,273.13 39.21,274.00 40.37,274.93 C41.53,275.86 42.69,276.66 43.85,277.53 C45.01,278.40 46.17,279.33 47.34,280.14 C48.50,280.94 49.66,281.86 50.82,282.36 C51.98,282.85 53.14,283.28 54.30,283.12 C55.46,282.95 56.62,282.22 57.78,281.36 C58.94,280.50 60.10,279.06 61.26,277.95 C62.43,276.84 63.59,275.70 64.75,274.70 C65.91,273.70 67.07,272.74 68.23,271.95 C69.39,271.16 70.55,270.29 71.71,269.96 C72.87,269.64 74.03,269.62 75.19,269.99 C76.35,270.36 77.52,271.24 78.68,272.19 C79.84,273.14 81.00,274.52 82.16,275.69 C83.32,276.86 84.48,278.13 85.64,279.21 C86.80,280.29 87.96,281.18 89.12,282.17 C90.28,283.15 91.44,284.14 92.61,285.14 C93.77,286.14 94.93,287.42 96.09,288.17 C97.25,288.92 98.41,289.61 99.57,289.63 C100.73,289.65 101.89,289.07 103.05,288.30 C104.21,287.53 105.37,286.65 106.53,284.99 C107.70,283.33 108.86,281.23 110.02,278.33 C111.18,275.42 112.34,271.09 113.50,267.55 C114.66,264.01 115.82,260.20 116.98,257.08 C118.14,253.96 119.30,251.59 120.46,248.84 C121.62,246.10 122.79,243.40 123.95,240.62 C125.11,237.84 126.27,234.85 127.43,232.17 C128.59,229.49 129.75,226.97 130.91,224.55 C132.07,222.12 133.23,219.72 134.39,217.63 C135.55,215.54 136.71,213.44 137.88,211.99 C139.04,210.54 140.20,209.57 141.36,208.93 C142.52,208.28 143.68,208.19 144.84,208.12 C146.00,208.05 147.16,208.42 148.32,208.50 C149.48,208.59 150.64,208.72 151.80,208.63 C152.97,208.54 154.13,207.98 155.29,207.98 C156.45,207.98 157.61,207.94 158.77,208.65 C159.93,209.36 161.09,210.87 162.25,212.24 C163.41,213.61 164.57,215.46 165.73,216.87 C166.89,218.28 168.06,219.31 169.22,220.68 C170.38,222.04 171.54,223.32 172.70,225.06 C173.86,226.81 175.02,229.01 176.18,231.15 C177.34,233.29 178.50,235.80 179.66,237.88 C180.82,239.97 181.98,242.00 183.15,243.66 C184.31,245.32 185.47,246.61 186.63,247.84 C187.79,249.08 188.95,250.03 190.11,251.07 C191.27,252.11 192.43,253.06 193.59,254.09 C194.75,255.11 195.91,256.15 197.07,257.22 C198.24,258.29 199.40,259.45 200.56,260.49 C201.72,261.53 202.88,262.55 204.04,263.46 C205.20,264.37 206.36,265.06 207.52,265.95 C208.68,266.85 209.84,267.65 211.00,268.83 C212.16,270.01 213.33,271.36 214.49,273.03 C215.65,274.70 216.81,276.75 217.97,278.85 C219.13,280.95 220.29,283.48 221.45,285.66 C222.61,287.84 223.77,289.99 224.93,291.93 C226.09,293.86 227.25,295.53 228.42,297.28 C229.58,299.02 230.74,300.74 231.90,302.40 C233.06,304.06 234.22,305.43 235.38,307.26 C236.54,309.09 237.70,310.93 238.86,313.39 C240.02,315.85 241.18,319.00 242.34,322.02 C243.50,325.05 244.67,328.40 245.83,331.55 C246.99,334.69 248.15,337.99 249.31,340.89 C250.47,343.79 251.63,346.57 252.79,348.94 C253.95,351.31 255.11,353.50 256.27,355.13 C257.43,356.76 258.59,357.85 259.76,358.72 C260.92,359.59 262.08,359.50 263.24,360.35 C264.40,361.20 265.56,362.43 266.72,363.80 C267.88,365.17 269.04,367.08 270.20,368.58 C271.36,370.08 272.52,371.36 273.68,372.78 C274.85,374.20 276.01,375.60 277.17,377.09 C278.33,378.58 279.49,380.07 280.65,381.72 C281.81,383.37 282.97,385.02 284.13,386.99 C285.29,388.96 286.45,391.28 287.61,393.55 C288.77,395.82 289.94,398.43 291.10,400.61 C292.26,402.78 293.42,404.76 294.58,406.60 C295.74,408.45 296.90,410.12 298.06,411.68 C299.22,413.25 300.38,414.80 301.54,415.98 C302.70,417.16 303.86,417.93 305.03,418.78 C306.19,419.62 307.35,420.19 308.51,421.07 C309.67,421.94 310.83,423.00 311.99,424.01 C313.15,425.02 314.31,426.21 315.47,427.14 C316.63,428.07 317.79,428.90 318.95,429.59 C320.12,430.27 321.28,430.67 322.44,431.24 C323.60,431.81 324.76,432.41 325.92,433.00 C327.08,433.58 328.24,434.27 329.40,434.72 C330.56,435.18 331.72,435.54 332.88,435.72 C334.04,435.90 335.21,435.96 336.37,435.80 C337.53,435.64 338.69,435.15 339.85,434.78 C341.01,434.40 342.17,433.85 343.33,433.55 C344.49,433.26 345.65,433.06 346.81,433.01 C347.97,432.95 349.13,432.95 350.30,433.22 C351.46,433.49 352.62,433.99 353.78,434.61 C354.94,435.22 356.10,436.13 357.26,436.89 C358.42,437.66 359.58,438.48 360.74,439.20 C361.90,439.92 363.06,440.52 364.22,441.21 C365.39,441.91 366.55,442.51 367.71,443.37 C368.87,444.22 370.03,445.35 371.19,446.34 C372.35,447.33 373.51,448.45 374.67,449.31 C375.83,450.16 376.99,450.65 378.15,451.45 C379.31,452.26 380.48,453.01 381.64,454.15 C382.80,455.29 383.96,456.85 385.12,458.29 C386.28,459.72 387.44,461.46 388.60,462.77 C389.76,464.09 390.92,465.27 392.08,466.17 C393.24,467.06 394.40,467.61 395.57,468.15 C396.73,468.68 397.89,469.21 399.05,469.38 C400.21,469.55 401.37,469.49 402.53,469.18 C403.69,468.86 404.85,468.09 406.01,467.50 C407.17,466.92 408.33,466.27 409.49,465.66 C410.66,465.05 411.82,464.44 412.98,463.84 C414.14,463.25 415.30,462.67 416.46,462.07 C417.62,461.47 418.78,460.88 419.94,460.24 C421.10,459.60 422.26,458.94 423.42,458.24 C424.58,457.55 425.75,456.86 426.91,456.09 C428.07,455.32 429.23,454.43 430.39,453.64 C431.55,452.86 432.71,452.17 433.87,451.38 C435.03,450.59 436.19,449.94 437.35,448.91 C438.51,447.88 439.67,446.56 440.84,445.20 C442.00,443.85 443.16,442.22 444.32,440.78 C445.48,439.35 446.64,437.88 447.80,436.59 C448.96,435.31 450.12,434.12 451.28,433.07 C452.44,432.02 453.60,431.11 454.76,430.27 C455.93,429.42 457.09,428.68 458.25,428.00 C459.41,427.31 460.57,426.71 461.73,426.14 C462.89,425.56 464.05,425.10 465.21,424.54 C466.37,423.98 467.53,423.40 468.69,422.79 C469.85,422.19 471.02,421.47 472.18,420.91 C473.34,420.35 474.50,419.83 475.66,419.45 C476.82,419.06 477.98,418.83 479.14,418.59 C480.30,418.35 481.46,418.21 482.62,417.99 C483.78,417.78 484.94,417.54 486.11,417.28 C487.27,417.01 488.43,416.87 489.59,416.42 C490.75,415.98 491.91,415.60 493.07,414.62 C494.23,413.65 495.39,412.23 496.55,410.57 C497.71,408.92 498.87,406.70 500.03,404.71 C501.20,402.72 502.36,400.52 503.52,398.62 C504.68,396.71 505.84,395.05 507.00,393.28 C508.16,391.52 509.32,389.82 510.48,388.03 C511.64,386.24 512.80,384.17 513.96,382.56 C515.12,380.94 516.29,379.46 517.45,378.35 C518.61,377.24 519.77,376.57 520.93,375.92 C522.09,375.26 523.25,374.92 524.41,374.42 C525.57,373.91 526.73,373.42 527.89,372.88 C529.05,372.33 530.21,371.64 531.38,371.14 C532.54,370.64 533.70,370.30 534.86,369.87 C536.02,369.44 537.18,369.15 538.34,368.54 C539.50,367.94 540.66,367.07 541.82,366.23 C542.98,365.39 544.14,364.33 545.30,363.49 C546.47,362.66 547.63,361.92 548.79,361.22 C549.95,360.51 551.11,359.88 552.27,359.26 C553.43,358.63 554.59,358.04 555.75,357.48 C556.91,356.92 558.07,356.40 559.23,355.90 C560.39,355.40 561.56,354.83 562.72,354.50 C563.88,354.18 565.04,353.87 566.20,353.95 C567.36,354.02 568.52,354.38 569.68,354.94 C570.84,355.49 572.00,356.45 573.16,357.27 C574.32,358.08 575.48,359.03 576.64,359.82 C577.81,360.60 578.97,361.28 580.13,361.98 C581.29,362.69 582.45,363.32 583.61,364.05 C584.77,364.78 585.93,365.48 587.09,366.36 C588.25,367.25 589.41,368.25 590.57,369.36 C591.73,370.47 592.90,371.86 594.06,373.02 C595.22,374.17 596.38,375.36 597.54,376.29 C598.70,377.22 599.86,378.02 601.02,378.60 C602.18,379.18 603.34,379.63 604.50,379.77 C605.66,379.91 606.82,379.68 607.99,379.46 C609.15,379.24 610.31,378.64 611.47,378.45 C612.63,378.25 613.79,378.08 614.95,378.28 C616.11,378.47 617.27,378.99 618.43,379.62 C619.59,380.24 620.75,381.22 621.91,382.02 C623.08,382.81 624.24,383.73 625.40,384.37 C626.56,385.02 627.72,385.41 628.88,385.89 C630.04,386.38 631.20,386.73 632.36,387.26 C633.52,387.79 634.68,388.46 635.84,389.08 C637.00,389.69 638.17,390.30 639.33,390.96 C640.49,391.62 641.65,392.20 642.81,393.03 C643.97,393.86 645.13,394.82 646.29,395.93 C647.45,397.04 648.61,398.51 649.77,399.71 C650.93,400.90 652.09,402.23 653.26,403.08 C654.42,403.93 655.58,404.38 656.74,404.80 C657.90,405.23 659.06,405.30 660.22,405.64 C661.38,405.98 662.54,406.38 663.70,406.84 C664.86,407.29 666.02,407.97 667.18,408.37 C668.35,408.76 669.51,409.14 670.67,409.19 C671.83,409.23 672.99,408.95 674.15,408.62 C675.31,408.29 676.47,407.63 677.63,407.21 C678.79,406.79 679.95,406.36 681.11,406.08 C682.27,405.81 683.44,405.76 684.60,405.56 C685.76,405.36 686.92,405.12 688.08,404.89 C689.24,404.66 690.40,404.31 691.56,404.18 C692.72,404.05 693.88,404.12 695.04,404.13 C696.20,404.13 697.36,404.24 698.53,404.22 C699.69,404.19 700.85,404.09 702.01,404.00 C703.17,403.90 704.33,403.85 705.49,403.66 C706.65,403.46 707.81,403.28 708.97,402.82 C710.13,402.37 711.29,401.67 712.45,400.90 C713.62,400.13 714.78,399.07 715.94,398.20 C717.10,397.33 718.26,396.43 719.42,395.68 C720.58,394.93 721.74,394.33 722.90,393.70 C724.06,393.06 725.22,392.48 726.38,391.86 C727.54,391.23 728.71,390.69 729.87,389.95 C731.03,389.22 732.19,388.46 733.35,387.44 C734.51,386.41 735.67,385.12 736.83,383.81 C737.99,382.50 739.15,380.97 740.31,379.59 C741.47,378.21 742.63,376.84 743.80,375.51 C744.96,374.17 746.12,373.02 747.28,371.55 C748.44,370.09 749.60,368.64 750.76,366.69 C751.92,364.74 753.08,362.18 754.24,359.83 C755.40,357.48 756.56,354.60 757.72,352.59 C758.89,350.57 760.05,349.02 761.21,347.73 C762.37,346.43 763.53,345.73 764.69,344.81 C765.85,343.88 767.01,343.06 768.17,342.19 C769.33,341.32 770.49,340.42 771.65,339.59 C772.81,338.77 773.98,337.91 775.14,337.25 C776.30,336.59 777.46,336.04 778.62,335.65 C779.78,335.26 780.94,335.01 782.10,334.91 C783.26,334.80 784.42,334.76 785.58,335.03 C786.74,335.30 787.90,335.77 789.07,336.53 C790.23,337.28 791.39,338.46 792.55,339.56 C793.71,340.65 794.87,342.08 796.03,343.09 C797.19,344.11 798.35,344.96 799.51,345.64 C800.67,346.33 801.83,346.71 802.99,347.20 C804.16,347.70 805.32,348.25 806.48,348.61 C807.64,348.97 808.80,349.31 809.96,349.36 C811.12,349.41 812.28,349.18 813.44,348.91 C814.60,348.63 815.76,348.19 816.92,347.71 C818.08,347.23 819.25,346.56 820.41,346.02 C821.57,345.49 822.73,345.02 823.89,344.50 C825.05,343.97 826.21,343.75 827.37,342.89 C828.53,342.03 829.69,340.73 830.85,339.34 C832.01,337.96 833.17,335.94 834.34,334.58 C835.50,333.23 836.66,332.10 837.82,331.20 C838.98,330.31 840.14,329.88 841.30,329.22 C842.46,328.55 843.62,327.85 844.78,327.23 C845.94,326.62 847.10,325.86 848.26,325.54 C849.43,325.22 850.59,325.28 851.75,325.29 C852.91,325.31 854.07,325.61 855.23,325.62 C856.39,325.64 857.55,325.62 858.71,325.39 C859.87,325.15 861.03,324.94 862.19,324.21 C863.35,323.48 864.52,322.31 865.68,321.03 C866.84,319.74 868.00,317.82 869.16,316.49 C870.32,315.16 871.48,313.89 872.64,313.05 C873.80,312.21 874.96,312.01 876.12,311.45 C877.28,310.89 878.44,310.57 879.61,309.68 C880.77,308.80 881.93,307.46 883.09,306.15 C884.25,304.83 885.41,303.08 886.57,301.80 C887.73,300.51 888.89,299.35 890.05,298.43 C891.21,297.50 892.37,296.87 893.53,296.27 C894.70,295.66 895.86,295.31 897.02,294.82 C898.18,294.32 899.34,293.98 900.50,293.28 C901.66,292.58 902.82,291.53 903.98,290.62 C905.14,289.72 906.30,288.59 907.46,287.85 C908.62,287.12 909.79,286.62 910.95,286.20 C912.11,285.77 913.27,285.58 914.43,285.30 C915.59,285.01 916.75,284.91 917.91,284.49 C919.07,284.06 920.23,283.55 921.39,282.77 C922.55,281.98 923.71,280.91 924.87,279.76 C926.04,278.61 927.20,277.30 928.36,275.86 C929.52,274.42 930.68,272.92 931.84,271.12 C933.00,269.32 934.16,267.31 935.32,265.08 C936.48,262.85 937.64,260.19 938.80,257.77 C939.96,255.35 941.13,252.75 942.29,250.57 C943.45,248.39 944.61,246.46 945.77,244.70 C946.93,242.94 948.09,241.58 949.25,240.02 C950.41,238.46 951.57,237.02 952.73,235.33 C953.89,233.64 955.05,231.65 956.22,229.88 C957.38,228.12 958.54,226.22 959.70,224.73 C960.86,223.23 962.02,222.02 963.18,220.91 C964.34,219.80 965.50,218.77 966.66,218.07 C967.82,217.37 968.98,216.76 970.14,216.73 C971.31,216.69 972.47,217.22 973.63,217.88 C974.79,218.55 975.95,219.54 977.11,220.72 C978.27,221.91 979.43,223.37 980.59,224.97 C981.75,226.57 982.91,228.67 984.07,230.33 C985.23,231.98 986.40,233.60 987.56,234.90 C988.72,236.20 989.88,237.24 991.04,238.12 C992.20,239.00 993.36,239.59 994.52,240.18 C995.68,240.76 996.84,241.24 998.00,241.62 C999.16,242.01 1000.32,242.55 1001.49,242.49 C1002.65,242.43 1003.81,241.97 1004.97,241.24 C1006.13,240.51 1007.29,239.12 1008.45,238.10 C1009.61,237.08 1010.77,236.00 1011.93,235.12 C1013.09,234.25 1014.25,233.61 1015.41,232.84 C1016.58,232.06 1017.74,231.16 1018.90,230.48 C1020.06,229.79 1021.22,229.15 1022.38,228.74 C1023.54,228.34 1024.70,228.25 1025.86,228.07 C1027.02,227.88 1028.18,227.39 1029.34,227.63 C1030.50,227.87 1031.67,228.13 1032.83,229.51 C1033.99,230.89 1035.15,233.56 1036.31,235.93 C1037.47,238.29 1038.63,241.60 1039.79,243.69 C1040.95,245.78 1042.11,247.30 1043.27,248.47 C1044.43,249.64 1045.59,249.90 1046.76,250.71 C1047.92,251.52 1049.08,252.18 1050.24,253.32 C1051.40,254.46 1052.56,255.94 1053.72,257.57 C1054.88,259.19 1056.04,261.25 1057.20,263.07 C1058.36,264.90 1059.52,266.89 1060.68,268.53 C1061.85,270.17 1063.01,271.61 1064.17,272.92 C1065.33,274.24 1066.49,275.30 1067.65,276.42 C1068.81,277.54 1069.97,278.49 1071.13,279.63 C1072.29,280.76 1073.45,282.06 1074.61,283.24 C1075.77,284.42 1076.94,285.79 1078.10,286.70 C1079.26,287.61 1080.42,288.22 1081.58,288.70 C1082.74,289.19 1083.90,289.40 1085.06,289.61 C1086.22,289.81 1087.38,289.92 1088.54,289.92 C1089.70,289.92 1090.86,289.68 1092.03,289.60 C1093.19,289.52 1094.35,289.38 1095.51,289.43 C1096.67,289.48 1097.83,289.62 1098.99,289.90 C1100.15,290.17 1101.31,290.56 1102.47,291.08 C1103.63,291.61 1104.79,292.37 1105.95,293.03 C1107.12,293.70 1108.28,294.44 1109.44,295.07 C1110.60,295.69 1111.76,296.05 1112.92,296.79 C1114.08,297.52 1115.24,298.12 1116.40,299.48 C1117.56,300.85 1118.72,302.88 1119.88,304.97 C1121.04,307.06 1122.21,309.75 1123.37,312.02 C1124.53,314.29 1125.69,316.50 1126.85,318.58 C1128.01,320.66 1129.17,322.65 1130.33,324.52 C1131.49,326.38 1132.65,328.15 1133.81,329.76 C1134.97,331.38 1136.13,332.92 1137.30,334.21 C1138.46,335.50 1139.62,336.45 1140.78,337.50 C1141.94,338.55 1143.10,339.32 1144.26,340.51 C1145.42,341.69 1146.58,343.08 1147.74,344.61 C1148.90,346.15 1150.06,347.86 1151.22,349.71 C1152.39,351.55 1153.55,353.61 1154.71,355.70 C1155.87,357.79 1157.03,360.09 1158.19,362.23 C1159.35,364.36 1160.51,366.43 1161.67,368.53 C1162.83,370.64 1163.99,372.79 1165.15,374.83 C1166.31,376.87 1167.48,378.97 1168.64,380.77 C1169.80,382.56 1170.96,384.04 1172.12,385.59 C1173.28,387.14 1174.44,388.49 1175.60,390.06 C1176.76,391.63 1177.92,393.30 1179.08,395.01 C1180.24,396.72 1181.40,398.59 1182.57,400.29 C1183.73,402.00 1184.89,403.75 1186.05,405.25 C1187.21,406.76 1188.37,408.08 1189.53,409.31 C1190.69,410.54 1192.43,412.10 1193.01,412.65" stroke="#2962ff" stroke-width="3" fill="none" stroke-linejoin="round" stroke-linecap="round" clip-path="url(#cmain)"/>
<path d="M12.51,668.83 C13.09,669.50 14.83,671.52 15.99,672.87 C17.16,674.21 18.32,675.70 19.48,676.91 C20.64,678.11 21.80,679.32 22.96,680.12 C24.12,680.92 25.28,681.16 26.44,681.68 C27.60,682.20 28.76,682.72 29.92,683.24 C31.08,683.76 32.25,684.30 33.41,684.80 C34.57,685.30 35.73,685.86 36.89,686.25 C38.05,686.64 39.21,686.84 40.37,687.13 C41.53,687.43 42.69,687.72 43.85,688.01 C45.01,688.31 46.17,688.60 47.34,688.90 C48.50,689.19 49.66,689.86 50.82,689.78 C51.98,689.70 53.14,688.89 54.30,688.43 C55.46,687.97 56.62,688.02 57.78,687.03 C58.94,686.04 60.10,684.05 61.26,682.48 C62.43,680.91 63.59,679.23 64.75,677.61 C65.91,675.99 67.07,674.37 68.23,672.75 C69.39,671.12 70.55,668.94 71.71,667.87 C72.87,666.80 74.03,666.66 75.19,666.34 C76.35,666.02 77.52,666.05 78.68,665.93 C79.84,665.82 81.00,665.81 82.16,665.64 C83.32,665.48 84.48,665.02 85.64,664.94 C86.80,664.87 87.96,665.15 89.12,665.18 C90.28,665.22 91.44,665.06 92.61,665.17 C93.77,665.28 94.93,665.77 96.09,665.84 C97.25,665.90 98.41,665.91 99.57,665.57 C100.73,665.23 101.89,664.20 103.05,663.80 C104.21,663.41 105.37,663.37 106.53,663.19 C107.70,663.02 108.86,663.35 110.02,662.75 C111.18,662.14 112.34,660.52 113.50,659.56 C114.66,658.61 115.82,657.59 116.98,657.01 C118.14,656.42 119.30,656.75 120.46,656.03 C121.62,655.30 122.79,653.93 123.95,652.67 C125.11,651.41 126.27,649.99 127.43,648.49 C128.59,646.99 129.75,645.24 130.91,643.68 C132.07,642.12 133.23,640.64 134.39,639.12 C135.55,637.60 136.71,635.81 137.88,634.57 C139.04,633.33 140.20,632.63 141.36,631.68 C142.52,630.73 143.68,629.56 144.84,628.84 C146.00,628.12 147.16,627.50 148.32,627.36 C149.48,627.23 150.64,627.87 151.80,628.01 C152.97,628.16 154.13,627.91 155.29,628.23 C156.45,628.56 157.61,628.72 158.77,629.97 C159.93,631.22 161.09,633.88 162.25,635.73 C163.41,637.59 164.57,639.70 165.73,641.12 C166.89,642.54 168.06,643.03 169.22,644.28 C170.38,645.52 171.54,646.97 172.70,648.59 C173.86,650.20 175.02,652.19 176.18,653.98 C177.34,655.77 178.50,657.56 179.66,659.31 C180.82,661.06 181.98,662.88 183.15,664.49 C184.31,666.10 185.47,667.79 186.63,668.99 C187.79,670.18 188.95,670.87 190.11,671.66 C191.27,672.46 192.43,673.13 193.59,673.77 C194.75,674.40 195.91,674.88 197.07,675.47 C198.24,676.06 199.40,676.51 200.56,677.31 C201.72,678.11 202.88,679.55 204.04,680.29 C205.20,681.03 206.36,681.43 207.52,681.76 C208.68,682.09 209.84,682.12 211.00,682.26 C212.16,682.41 213.33,682.15 214.49,682.63 C215.65,683.10 216.81,684.30 217.97,685.11 C219.13,685.91 220.29,686.80 221.45,687.48 C222.61,688.16 223.77,688.86 224.93,689.17 C226.09,689.48 227.25,689.13 228.42,689.34 C229.58,689.55 230.74,690.04 231.90,690.42 C233.06,690.80 234.22,691.14 235.38,691.62 C236.54,692.09 237.70,692.45 238.86,693.29 C240.02,694.14 241.18,695.65 242.34,696.67 C243.50,697.69 244.67,698.44 245.83,699.42 C246.99,700.41 248.15,701.61 249.31,702.56 C250.47,703.50 251.63,704.37 252.79,705.08 C253.95,705.80 255.11,706.27 256.27,706.82 C257.43,707.38 258.59,708.57 259.76,708.40 C260.92,708.22 262.08,706.40 263.24,705.78 C264.40,705.16 265.56,705.18 266.72,704.67 C267.88,704.16 269.04,703.39 270.20,702.72 C271.36,702.05 272.52,701.13 273.68,700.66 C274.85,700.19 276.01,700.22 277.17,699.90 C278.33,699.57 279.49,698.97 280.65,698.71 C281.81,698.45 282.97,698.40 284.13,698.32 C285.29,698.25 286.45,698.48 287.61,698.24 C288.77,698.01 289.94,697.43 291.10,696.92 C292.26,696.41 293.42,695.87 294.58,695.20 C295.74,694.52 296.90,693.56 298.06,692.88 C299.22,692.20 300.38,691.64 301.54,691.13 C302.70,690.62 303.86,690.34 305.03,689.79 C306.19,689.24 307.35,687.75 308.51,687.84 C309.67,687.93 310.83,689.94 311.99,690.32 C313.15,690.69 314.31,690.08 315.47,690.10 C316.63,690.11 317.79,690.50 318.95,690.40 C320.12,690.31 321.28,689.73 322.44,689.53 C323.60,689.32 324.76,689.35 325.92,689.18 C327.08,689.00 328.24,688.81 329.40,688.47 C330.56,688.14 331.72,687.76 332.88,687.18 C334.04,686.60 335.21,685.94 336.37,684.99 C337.53,684.04 338.69,682.56 339.85,681.46 C341.01,680.36 342.17,679.26 343.33,678.40 C344.49,677.55 345.65,677.08 346.81,676.32 C347.97,675.55 349.13,674.28 350.30,673.81 C351.46,673.33 352.62,673.46 353.78,673.47 C354.94,673.48 356.10,673.90 357.26,673.88 C358.42,673.87 359.58,673.49 360.74,673.38 C361.90,673.28 363.06,673.40 364.22,673.26 C365.39,673.12 366.55,672.38 367.71,672.52 C368.87,672.67 370.03,673.70 371.19,674.14 C372.35,674.57 373.51,674.96 374.67,675.13 C375.83,675.29 376.99,674.98 378.15,675.10 C379.31,675.23 380.48,675.33 381.64,675.86 C382.80,676.39 383.96,677.37 385.12,678.29 C386.28,679.21 387.44,680.27 388.60,681.38 C389.76,682.48 390.92,684.25 392.08,684.91 C393.24,685.58 394.40,685.05 395.57,685.36 C396.73,685.66 397.89,686.68 399.05,686.77 C400.21,686.85 401.37,686.45 402.53,685.86 C403.69,685.28 404.85,684.00 406.01,683.23 C407.17,682.47 408.33,682.02 409.49,681.28 C410.66,680.53 411.82,679.49 412.98,678.75 C414.14,678.00 415.30,677.65 416.46,676.79 C417.62,675.93 418.78,674.75 419.94,673.60 C421.10,672.45 422.26,670.91 423.42,669.91 C424.58,668.92 425.75,668.59 426.91,667.64 C428.07,666.70 429.23,665.56 430.39,664.23 C431.55,662.91 432.71,661.14 433.87,659.72 C435.03,658.30 436.19,657.31 437.35,655.70 C438.51,654.08 439.67,651.58 440.84,650.02 C442.00,648.46 443.16,647.71 444.32,646.33 C445.48,644.95 446.64,642.99 447.80,641.74 C448.96,640.50 450.12,639.57 451.28,638.88 C452.44,638.19 453.60,638.08 454.76,637.60 C455.93,637.11 457.09,636.40 458.25,635.96 C459.41,635.52 460.57,635.30 461.73,634.97 C462.89,634.64 464.05,634.33 465.21,633.99 C466.37,633.65 467.53,633.32 468.69,632.93 C469.85,632.55 471.02,632.02 472.18,631.69 C473.34,631.37 474.50,631.02 475.66,630.97 C476.82,630.92 477.98,631.22 479.14,631.38 C480.30,631.55 481.46,631.89 482.62,631.96 C483.78,632.03 484.94,631.62 486.11,631.80 C487.27,631.98 488.43,632.60 489.59,633.05 C490.75,633.50 491.91,634.43 493.07,634.48 C494.23,634.54 495.39,633.96 496.55,633.38 C497.71,632.81 498.87,631.96 500.03,631.05 C501.20,630.14 502.36,628.78 503.52,627.91 C504.68,627.03 505.84,626.55 507.00,625.80 C508.16,625.05 509.32,624.38 510.48,623.39 C511.64,622.41 512.80,620.73 513.96,619.89 C515.12,619.06 516.29,618.56 517.45,618.38 C518.61,618.20 519.77,618.74 520.93,618.82 C522.09,618.89 523.25,618.86 524.41,618.84 C525.57,618.82 526.73,619.00 527.89,618.71 C529.05,618.42 530.21,617.32 531.38,617.09 C532.54,616.87 533.70,617.33 534.86,617.37 C536.02,617.42 537.18,617.46 538.34,617.35 C539.50,617.24 540.66,616.60 541.82,616.72 C542.98,616.84 544.14,617.30 545.30,618.07 C546.47,618.84 547.63,620.22 548.79,621.33 C549.95,622.44 551.11,623.78 552.27,624.73 C553.43,625.67 554.59,626.19 555.75,627.01 C556.91,627.83 558.07,628.68 559.23,629.64 C560.39,630.61 561.56,631.87 562.72,632.78 C563.88,633.69 565.04,634.37 566.20,635.09 C567.36,635.80 568.52,636.21 569.68,637.06 C570.84,637.91 572.00,639.21 573.16,640.19 C574.32,641.17 575.48,641.87 576.64,642.93 C577.81,644.00 578.97,645.62 580.13,646.58 C581.29,647.54 582.45,647.82 583.61,648.68 C584.77,649.54 585.93,650.57 587.09,651.74 C588.25,652.91 589.41,654.04 590.57,655.70 C591.73,657.35 592.90,659.99 594.06,661.65 C595.22,663.30 596.38,664.34 597.54,665.62 C598.70,666.91 599.86,668.23 601.02,669.37 C602.18,670.50 603.34,671.73 604.50,672.44 C605.66,673.16 606.82,673.29 607.99,673.64 C609.15,674.00 610.31,674.30 611.47,674.58 C612.63,674.85 613.79,674.99 614.95,675.30 C616.11,675.61 617.27,676.23 618.43,676.45 C619.59,676.66 620.75,676.43 621.91,676.59 C623.08,676.76 624.24,677.41 625.40,677.45 C626.56,677.49 627.72,676.95 628.88,676.83 C630.04,676.70 631.20,676.75 632.36,676.69 C633.52,676.63 634.68,676.57 635.84,676.48 C637.00,676.39 638.17,676.50 639.33,676.14 C640.49,675.79 641.65,674.64 642.81,674.36 C643.97,674.08 645.13,674.25 646.29,674.47 C647.45,674.69 648.61,675.12 649.77,675.69 C650.93,676.26 652.09,677.31 653.26,677.89 C654.42,678.47 655.58,678.68 656.74,679.18 C657.90,679.69 659.06,680.40 660.22,680.92 C661.38,681.44 662.54,681.99 663.70,682.30 C664.86,682.61 666.02,682.79 667.18,682.78 C668.35,682.77 669.51,682.76 670.67,682.24 C671.83,681.72 672.99,680.34 674.15,679.67 C675.31,679.00 676.47,678.79 677.63,678.22 C678.79,677.65 679.95,676.78 681.11,676.26 C682.27,675.74 683.44,675.63 684.60,675.09 C685.76,674.55 686.92,673.72 688.08,673.02 C689.24,672.33 690.40,671.64 691.56,670.93 C692.72,670.21 693.88,669.55 695.04,668.75 C696.20,667.94 697.36,667.19 698.53,666.11 C699.69,665.03 700.85,663.04 702.01,662.27 C703.17,661.49 704.33,661.79 705.49,661.45 C706.65,661.11 707.81,660.85 708.97,660.24 C710.13,659.62 711.29,658.85 712.45,657.77 C713.62,656.69 714.78,654.97 715.94,653.78 C717.10,652.59 718.26,651.36 719.42,650.64 C720.58,649.93 721.74,649.83 722.90,649.49 C724.06,649.15 725.22,648.89 726.38,648.60 C727.54,648.31 728.71,648.30 729.87,647.76 C731.03,647.21 732.19,646.23 733.35,645.32 C734.51,644.41 735.67,643.33 736.83,642.29 C737.99,641.25 739.15,640.34 740.31,639.09 C741.47,637.85 742.63,636.22 743.80,634.81 C744.96,633.40 746.12,631.99 747.28,630.63 C748.44,629.26 749.60,628.26 750.76,626.63 C751.92,625.00 753.08,622.79 754.24,620.85 C755.40,618.91 756.56,616.22 757.72,615.00 C758.89,613.77 760.05,613.67 761.21,613.52 C762.37,613.37 763.53,614.05 764.69,614.11 C765.85,614.17 767.01,613.97 768.17,613.87 C769.33,613.77 770.49,613.68 771.65,613.52 C772.81,613.36 773.98,612.93 775.14,612.90 C776.30,612.87 777.46,613.10 778.62,613.35 C779.78,613.60 780.94,613.73 782.10,614.39 C783.26,615.06 784.42,616.16 785.58,617.35 C786.74,618.53 787.90,619.87 789.07,621.50 C790.23,623.12 791.39,625.18 792.55,627.09 C793.71,628.99 794.87,630.98 796.03,632.91 C797.19,634.84 798.35,636.72 799.51,638.67 C800.67,640.61 801.83,642.39 802.99,644.60 C804.16,646.80 805.32,650.16 806.48,651.92 C807.64,653.68 808.80,654.43 809.96,655.16 C811.12,655.90 812.28,655.91 813.44,656.34 C814.60,656.77 815.76,657.39 816.92,657.73 C818.08,658.06 819.25,658.13 820.41,658.35 C821.57,658.58 822.73,658.78 823.89,659.09 C825.05,659.39 826.21,660.22 827.37,660.20 C828.53,660.18 829.69,659.61 830.85,658.97 C832.01,658.34 833.17,657.16 834.34,656.39 C835.50,655.61 836.66,655.08 837.82,654.33 C838.98,653.57 840.14,652.82 841.30,651.85 C842.46,650.87 843.62,649.52 844.78,648.49 C845.94,647.45 847.10,646.20 848.26,645.64 C849.43,645.07 850.59,645.27 851.75,645.09 C852.91,644.91 854.07,644.85 855.23,644.55 C856.39,644.24 857.55,643.38 858.71,643.27 C859.87,643.16 861.03,643.96 862.19,643.88 C863.35,643.80 864.52,643.12 865.68,642.79 C866.84,642.45 868.00,642.14 869.16,641.87 C870.32,641.59 871.48,641.26 872.64,641.13 C873.80,641.01 874.96,640.91 876.12,641.13 C877.28,641.34 878.44,641.95 879.61,642.43 C880.77,642.91 881.93,643.84 883.09,644.00 C884.25,644.15 885.41,643.54 886.57,643.35 C887.73,643.16 888.89,642.91 890.05,642.85 C891.21,642.80 892.37,642.91 893.53,643.02 C894.70,643.13 895.86,643.49 897.02,643.52 C898.18,643.56 899.34,643.62 900.50,643.21 C901.66,642.81 902.82,641.59 903.98,641.08 C905.14,640.57 906.30,640.44 907.46,640.15 C908.62,639.86 909.79,639.29 910.95,639.32 C912.11,639.35 913.27,639.89 914.43,640.35 C915.59,640.80 916.75,641.57 917.91,642.04 C919.07,642.52 920.23,643.29 921.39,643.21 C922.55,643.13 923.71,642.02 924.87,641.54 C926.04,641.07 927.20,640.76 928.36,640.37 C929.52,639.97 930.68,639.51 931.84,639.18 C933.00,638.85 934.16,639.00 935.32,638.41 C936.48,637.82 937.64,636.59 938.80,635.64 C939.96,634.68 941.13,633.63 942.29,632.70 C943.45,631.76 944.61,630.84 945.77,630.04 C946.93,629.23 948.09,628.45 949.25,627.88 C950.41,627.30 951.57,627.10 952.73,626.58 C953.89,626.05 955.05,625.54 956.22,624.72 C957.38,623.91 958.54,622.42 959.70,621.67 C960.86,620.92 962.02,620.79 963.18,620.21 C964.34,619.64 965.50,618.68 966.66,618.22 C967.82,617.77 968.98,617.25 970.14,617.48 C971.31,617.71 972.47,618.73 973.63,619.62 C974.79,620.51 975.95,621.61 977.11,622.80 C978.27,623.99 979.43,625.09 980.59,626.76 C981.75,628.43 982.91,630.91 984.07,632.83 C985.23,634.75 986.40,636.44 987.56,638.27 C988.72,640.11 989.88,642.22 991.04,643.84 C992.20,645.47 993.36,646.81 994.52,648.04 C995.68,649.27 996.84,650.05 998.00,651.21 C999.16,652.37 1000.32,653.87 1001.49,654.99 C1002.65,656.11 1003.81,657.11 1004.97,657.94 C1006.13,658.77 1007.29,659.51 1008.45,659.99 C1009.61,660.47 1010.77,660.44 1011.93,660.83 C1013.09,661.22 1014.25,662.00 1015.41,662.33 C1016.58,662.66 1017.74,662.99 1018.90,662.79 C1020.06,662.59 1021.22,661.58 1022.38,661.14 C1023.54,660.71 1024.70,660.68 1025.86,660.18 C1027.02,659.68 1028.18,658.95 1029.34,658.14 C1030.50,657.32 1031.67,655.55 1032.83,655.31 C1033.99,655.06 1035.15,656.14 1036.31,656.67 C1037.47,657.20 1038.63,658.03 1039.79,658.47 C1040.95,658.90 1042.11,659.15 1043.27,659.28 C1044.43,659.42 1045.59,659.28 1046.76,659.29 C1047.92,659.31 1049.08,658.99 1050.24,659.37 C1051.40,659.75 1052.56,660.56 1053.72,661.56 C1054.88,662.57 1056.04,664.14 1057.20,665.40 C1058.36,666.65 1059.52,668.06 1060.68,669.10 C1061.85,670.15 1063.01,670.73 1064.17,671.65 C1065.33,672.57 1066.49,673.67 1067.65,674.64 C1068.81,675.60 1069.97,676.68 1071.13,677.43 C1072.29,678.18 1073.45,678.36 1074.61,679.14 C1075.77,679.93 1076.94,681.50 1078.10,682.14 C1079.26,682.77 1080.42,683.14 1081.58,682.94 C1082.74,682.74 1083.90,681.71 1085.06,680.93 C1086.22,680.15 1087.38,678.94 1088.54,678.25 C1089.70,677.56 1090.86,677.08 1092.03,676.79 C1093.19,676.50 1094.35,676.59 1095.51,676.51 C1096.67,676.43 1097.83,676.46 1098.99,676.28 C1100.15,676.11 1101.31,675.66 1102.47,675.45 C1103.63,675.24 1104.79,675.26 1105.95,675.04 C1107.12,674.81 1108.28,674.31 1109.44,674.11 C1110.60,673.91 1111.76,673.97 1112.92,673.86 C1114.08,673.74 1115.24,673.18 1116.40,673.43 C1117.56,673.68 1118.72,674.66 1119.88,675.37 C1121.04,676.08 1122.21,677.17 1123.37,677.69 C1124.53,678.22 1125.69,677.94 1126.85,678.52 C1128.01,679.09 1129.17,680.39 1130.33,681.15 C1131.49,681.90 1132.65,682.34 1133.81,683.04 C1134.97,683.73 1136.13,684.60 1137.30,685.30 C1138.46,686.01 1139.62,686.71 1140.78,687.27 C1141.94,687.83 1143.10,688.09 1144.26,688.66 C1145.42,689.23 1146.58,689.99 1147.74,690.68 C1148.90,691.37 1150.06,692.13 1151.22,692.78 C1152.39,693.44 1153.55,693.88 1154.71,694.61 C1155.87,695.33 1157.03,696.32 1158.19,697.14 C1159.35,697.96 1160.51,698.67 1161.67,699.54 C1162.83,700.40 1163.99,701.69 1165.15,702.33 C1166.31,702.97 1167.48,703.41 1168.64,703.36 C1169.80,703.31 1170.96,702.22 1172.12,702.01 C1173.28,701.81 1174.44,702.12 1175.60,702.11 C1176.76,702.11 1177.92,701.80 1179.08,701.99 C1180.24,702.18 1181.40,702.87 1182.57,703.24 C1183.73,703.60 1184.89,703.81 1186.05,704.20 C1187.21,704.58 1188.37,705.09 1189.53,705.54 C1190.69,705.98 1192.43,706.66 1193.01,706.89" stroke="#f7c431" stroke-width="1" fill="none" clip-path="url(#crsi)"/>
<path d="M12.51,696.86 L15.99,709.82 L19.48,710.55 L22.96,692.00 L26.44,680.14 L29.92,679.44 L33.41,690.47 L36.89,695.59 L40.37,675.24 L43.85,682.42 L47.34,679.54 L50.82,682.29 L54.30,673.08 L57.78,649.95 L61.26,636.95 L64.75,639.80 L68.23,646.29 L71.71,638.19 L75.19,665.10 L78.68,671.25 L82.16,686.83 L85.64,681.98 L89.12,680.54 L92.61,681.10 L96.09,688.36 L99.57,678.53 L103.05,648.36 L106.53,641.40 L110.02,630.70 L113.50,595.27 L116.98,610.46 L120.46,624.51 L123.95,618.07 L127.43,612.72 L130.91,619.55 L134.39,618.08 L137.88,616.83 L141.36,640.67 L144.84,648.66 L148.32,657.83 L151.80,657.40 L155.29,644.55 L158.77,654.98 L162.25,675.99 L165.73,685.85 L169.22,668.72 L172.70,678.37 L176.18,688.27 L179.66,694.12 L183.15,690.62 L186.63,679.81 L190.11,678.11 L193.59,678.11 L197.07,681.73 L200.56,683.09 L204.04,686.30 L207.52,675.50 L211.00,683.03 L214.49,691.00 L217.97,703.40 L221.45,711.62 L224.93,711.99 L228.42,696.47 L231.90,705.66 L235.38,696.59 L238.86,701.63 L242.34,725.35 L245.83,720.31 L249.31,726.93 L252.79,721.69 L256.27,699.86 L259.76,705.08 L263.24,654.32 L266.72,687.92 L270.20,684.32 L273.68,683.08 L277.17,685.84 L280.65,688.99 L284.13,691.23 L287.61,700.51 L291.10,706.78 L294.58,696.20 L298.06,694.48 L301.54,697.23 L305.03,681.09 L308.51,677.76 L311.99,689.02 L315.47,684.88 L318.95,688.58 L322.44,670.79 L325.92,680.96 L329.40,679.13 L332.88,673.07 L336.37,669.93 L339.85,657.36 L343.33,653.38 L346.81,665.25 L350.30,662.13 L353.78,676.32 L357.26,683.53 L360.74,682.05 L364.22,683.17 L367.71,678.23 L371.19,693.40 L374.67,694.81 L378.15,678.82 L381.64,683.65 L385.12,704.01 L388.60,700.52 L392.08,702.90 L395.57,671.44 L399.05,681.88 L402.53,663.69 L406.01,646.72 L409.49,654.62 L412.98,647.78 L416.46,650.85 L419.94,648.72 L423.42,643.21 L426.91,647.01 L430.39,635.93 L433.87,640.80 L437.35,644.19 L440.84,623.42 L444.32,619.79 L447.80,617.70 L451.28,623.64 L454.76,628.70 L458.25,631.72 L461.73,633.87 L465.21,637.16 L468.69,633.93 L472.18,625.85 L475.66,636.89 L479.14,641.72 L482.62,648.93 L486.11,641.94 L489.59,640.86 L493.07,639.85 L496.55,602.32 L500.03,590.96 L503.52,584.73 L507.00,602.18 L510.48,600.17 L513.96,588.16 L517.45,612.79 L520.93,631.94 L524.41,637.20 L527.89,639.89 L531.38,626.30 L534.86,645.87 L538.34,640.51 L541.82,631.02 L545.30,621.30 L548.79,636.58 L552.27,632.25 L555.75,634.11 L559.23,637.10 L562.72,632.05 L566.20,645.10 L569.68,659.57 L573.16,681.06 L576.64,678.26 L580.13,677.35 L583.61,675.32 L587.09,683.28 L590.57,686.40 L594.06,704.65 L597.54,692.22 L601.02,684.65 L604.50,677.22 L607.99,653.88 L611.47,645.13 L614.95,655.19 L618.43,675.65 L621.91,683.13 L625.40,690.28 L628.88,668.59 L632.36,673.44 L635.84,680.30 L639.33,681.69 L642.81,679.65 L646.29,693.77 L649.77,701.74 L653.26,708.00 L656.74,671.98 L660.22,669.43 L663.70,674.57 L667.18,682.29 L670.67,675.63 L674.15,654.31 L677.63,648.26 L681.11,646.01 L684.60,663.93 L688.08,652.71 L691.56,650.31 L695.04,663.27 L698.53,664.84 L702.01,654.20 L705.49,660.55 L708.97,652.44 L712.45,640.02 L715.94,626.42 L719.42,631.73 L722.90,638.19 L726.38,635.83 L729.87,634.15 L733.35,629.83 L736.83,610.30 L740.31,605.53 L743.80,603.34 L747.28,606.27 L750.76,598.16 L754.24,579.70 L757.72,570.48 L761.21,619.37 L764.69,634.62 L768.17,628.40 L771.65,633.28 L775.14,627.19 L778.62,640.44 L782.10,644.40 L785.58,651.65 L789.07,663.62 L792.55,681.63 L796.03,687.83 L799.51,678.70 L802.99,662.71 L806.48,672.97 L809.96,664.82 L813.44,651.08 L816.92,647.86 L820.41,642.02 L823.89,637.46 L827.37,656.05 L830.85,627.20 L834.34,615.45 L837.82,634.80 L841.30,646.91 L844.78,640.81 L848.26,638.77 L851.75,655.05 L855.23,665.37 L858.71,646.97 L862.19,659.57 L865.68,632.62 L869.16,629.13 L872.64,627.19 L876.12,655.93 L879.61,645.45 L883.09,637.39 L886.57,625.68 L890.05,640.00 L893.53,643.16 L897.02,645.81 L900.50,650.70 L903.98,635.57 L907.46,633.90 L910.95,647.98 L914.43,646.95 L917.91,652.91 L921.39,643.54 L924.87,632.60 L928.36,628.98 L931.84,620.74 L935.32,614.89 L938.80,601.18 L942.29,602.02 L945.77,608.56 L949.25,620.48 L952.73,617.39 L956.22,607.93 L959.70,605.24 L963.18,626.49 L966.66,625.08 L970.14,633.11 L973.63,662.58 L977.11,673.52 L980.59,676.20 L984.07,699.83 L987.56,677.38 L991.04,680.02 L994.52,667.33 L998.00,664.80 L1001.49,670.31 L1004.97,649.23 L1008.45,633.97 L1011.93,638.19 L1015.41,646.16 L1018.90,639.53 L1022.38,639.53 L1025.86,660.07 L1029.34,647.55 L1032.83,660.22 L1036.31,696.43 L1039.79,705.22 L1043.27,678.74 L1046.76,664.92 L1050.24,671.40 L1053.72,679.93 L1057.20,687.65 L1060.68,690.10 L1064.17,681.82 L1067.65,681.34 L1071.13,678.66 L1074.61,684.01 L1078.10,689.47 L1081.58,671.46 L1085.06,668.27 L1088.54,667.75 L1092.03,658.26 L1095.51,661.02 L1098.99,668.25 L1102.47,668.25 L1105.95,681.85 L1109.44,677.13 L1112.92,678.27 L1116.40,675.39 L1119.88,705.77 L1123.37,716.59 L1126.85,700.99 L1130.33,708.25 L1133.81,694.74 L1137.30,699.50 L1140.78,685.79 L1144.26,680.49 L1147.74,696.49 L1151.22,697.71 L1154.71,707.35 L1158.19,712.62 L1161.67,711.86 L1165.15,714.44 L1168.64,720.22 L1172.12,697.72 L1175.60,702.38 L1179.08,706.56 L1182.57,712.15 L1186.05,712.96 L1189.53,704.54 L1193.01,699.43" stroke="#7e57c2" stroke-width="2.8" fill="none" stroke-linejoin="round" stroke-linecap="round" clip-path="url(#crsi)"/>
<text x="18" y="46" font-size="12" fill="#131722" textLength="159.6" lengthAdjust="spacingAndGlyphs">SOL / TetherUS · 1D · Binance</text>
<text x="185.6" y="46" font-size="12" fill="#131722" textLength="8.2" lengthAdjust="spacingAndGlyphs">O</text>
<text x="194" y="46" font-size="12" fill="#26a69a" textLength="36" lengthAdjust="spacingAndGlyphs">130.58</text>
<text x="236.9" y="46" font-size="12" fill="#131722" textLength="8" lengthAdjust="spacingAndGlyphs">H</text>
<text x="245.6" y="46" font-size="12" fill="#26a69a" textLength="34.6" lengthAdjust="spacingAndGlyphs">134.41</text>
<text x="288" y="46" font-size="12" fill="#131722" textLength="6" lengthAdjust="spacingAndGlyphs">L</text>
<text x="294.9" y="46" font-size="12" fill="#26a69a" textLength="34.8" lengthAdjust="spacingAndGlyphs">128.44</text>
<text x="337.2" y="46" font-size="12" fill="#131722" textLength="7.6" lengthAdjust="spacingAndGlyphs">C</text>
<text x="345.3" y="46" font-size="12" fill="#26a69a" textLength="35" lengthAdjust="spacingAndGlyphs">132.74</text>
<text x="387.6" y="46" font-size="12" fill="#26a69a" textLength="77.9" lengthAdjust="spacingAndGlyphs">+2.16 (+1.65%)</text>
<text x="18" y="62.8" font-size="12" fill="#131722" textLength="81.5" lengthAdjust="spacingAndGlyphs">EMA (20, close)</text>
<text x="108.4" y="62.8" font-size="12" fill="#3d6cf0" textLength="34.6" lengthAdjust="spacingAndGlyphs">145.33</text>
<text x="18" y="79.6" font-size="12" fill="#131722" textLength="81.5" lengthAdjust="spacingAndGlyphs">SMA (50, close)</text>
<text x="107.5" y="79.6" font-size="12" fill="#e04650" textLength="34.6" lengthAdjust="spacingAndGlyphs">174.01</text>
<text x="18.4" y="579" font-size="12" fill="#131722" textLength="75.2" lengthAdjust="spacingAndGlyphs">RSI (14, close)</text>
<text x="102" y="579" font-size="12" fill="#7e57c2" textLength="28.8" lengthAdjust="spacingAndGlyphs">35.25</text>
<text x="138.5" y="579" font-size="12" fill="#f7c431" textLength="29.5" lengthAdjust="spacingAndGlyphs">32.48</text>
<rect x="1281.5" y="31" width="57" height="25.5" rx="4" fill="#fff" stroke="#e9e9eb" stroke-width="1"/>
<text x="1290.5" y="48.6" font-size="12.5" fill="#131722" textLength="26.7" lengthAdjust="spacingAndGlyphs">USDT</text>
<text x="1286.4" y="95.8" font-size="12.7" fill="#131722" textLength="35" lengthAdjust="spacingAndGlyphs">280.00</text>
<text x="1286.4" y="143.5" font-size="12.7" fill="#131722" textLength="35" lengthAdjust="spacingAndGlyphs">260.00</text>
<text x="1286.4" y="191.2" font-size="12.7" fill="#131722" textLength="35" lengthAdjust="spacingAndGlyphs">240.00</text>
<text x="1286.4" y="238.9" font-size="12.7" fill="#131722" textLength="35" lengthAdjust="spacingAndGlyphs">220.00</text>
<text x="1286.4" y="286.6" font-size="12.7" fill="#131722" textLength="35" lengthAdjust="spacingAndGlyphs">200.00</text>
<text x="1286.4" y="334.3" font-size="12.7" fill="#131722" textLength="35" lengthAdjust="spacingAndGlyphs">180.00</text>
<text x="1286.4" y="382.0" font-size="12.7" fill="#131722" textLength="35" lengthAdjust="spacingAndGlyphs">160.00</text>
<text x="1286.4" y="429.7" font-size="12.7" fill="#131722" textLength="35" lengthAdjust="spacingAndGlyphs">140.00</text>
<text x="1286.4" y="477.4" font-size="12.7" fill="#131722" textLength="35" lengthAdjust="spacingAndGlyphs">120.00</text>
<text x="1286.4" y="525.1" font-size="12.7" fill="#131722" textLength="35" lengthAdjust="spacingAndGlyphs">100.00</text>
<text x="1286.4" y="581.0" font-size="12.7" fill="#131722" textLength="29.5" lengthAdjust="spacingAndGlyphs">80.00</text>
<text x="1286.4" y="636.0" font-size="12.7" fill="#131722" textLength="29.5" lengthAdjust="spacingAndGlyphs">60.00</text>
<text x="1286.4" y="691.0" font-size="12.7" fill="#131722" textLength="29.5" lengthAdjust="spacingAndGlyphs">40.00</text>
<path d="M1277.5,131.3H1324.5Q1326.5,131.3 1326.5,133.3V145.5Q1326.5,147.5 1324.5,147.5H1277.5Z" fill="#0000ee"/>
<text x="1286.4" y="143.6" font-size="12.3" fill="#fff" textLength="35" lengthAdjust="spacingAndGlyphs" font-weight="bold">260.00</text>
<path d="M1277.5,337H1229Q1227,337 1227,339V350Q1227,352 1229,352H1277.5Z" fill="#e5323f"/>
<path d="M1277.5,337H1324.3Q1326.3,337 1326.3,339V350Q1326.3,352 1324.3,352H1277.5Z" fill="#e5323f"/>
<text x="1233.5" y="348.5" font-size="12.3" fill="#fff" textLength="38" lengthAdjust="spacingAndGlyphs" font-weight="bold">SMA:MA</text>
<text x="1286.4" y="348.5" font-size="12.3" fill="#fff" textLength="35" lengthAdjust="spacingAndGlyphs" font-weight="bold">174.01</text>
<path d="M1277.5,404.2H1248Q1246,404.2 1246,406.2V418.4Q1246,420.4 1248,420.4H1277.5Z" fill="#2962ff"/>
<path d="M1277.5,404.2H1324.9Q1326.9,404.2 1326.9,406.2V418.4Q1326.9,420.4 1324.9,420.4H1277.5Z" fill="#2962ff"/>
<text x="1251.5" y="416.5" font-size="12.3" fill="#fff" textLength="22" lengthAdjust="spacingAndGlyphs" font-weight="bold">EMA</text>
<text x="1286.4" y="416.5" font-size="12.3" fill="#fff" textLength="35" lengthAdjust="spacingAndGlyphs" font-weight="bold">145.33</text>
<path d="M1277.5,434.2H1223Q1221,434.2 1221,436.2V448.7Q1221,450.7 1223,450.7H1277.5Z" fill="#26a69a"/>
<path d="M1277.5,434.2H1335Q1337,434.2 1337,436.2V476.3Q1337,478.3 1335,478.3H1277.5Z" fill="#26a69a"/>
<text x="1225.5" y="446.7" font-size="12.3" fill="#fff" textLength="46" lengthAdjust="spacingAndGlyphs" font-weight="bold">SOLUSDT</text>
<text x="1286.4" y="446.7" font-size="12.3" fill="#fff" textLength="35" lengthAdjust="spacingAndGlyphs" font-weight="bold">132.74</text>
<text x="1285.5" y="460.6" font-size="12.3" fill="#e8f6f3" textLength="43" lengthAdjust="spacingAndGlyphs" font-weight="bold">−31.51%</text>
<text x="1285.5" y="474.5" font-size="12.3" fill="#cdebe6" textLength="44.5" lengthAdjust="spacingAndGlyphs" font-weight="bold">07:47:28</text>
<path d="M1277.5,479.1H1324.9Q1326.9,479.1 1326.9,481.1V493.4Q1326.9,495.4 1324.9,495.4H1277.5Z" fill="#0000ee"/>
<text x="1286.4" y="491.5" font-size="12.3" fill="#fff" textLength="35" lengthAdjust="spacingAndGlyphs" font-weight="bold">126.00</text>
<path d="M1277.5,524.1H1318.7Q1320.7,524.1 1320.7,526.1V538.6Q1320.7,540.6 1318.7,540.6H1277.5Z" fill="#0000ee"/>
<text x="1286.4" y="536.7" font-size="12.3" fill="#fff" textLength="29" lengthAdjust="spacingAndGlyphs" font-weight="bold">95.00</text>
<path d="M1277.5,691.1H1254Q1252,691.1 1252,693.1V705.7Q1252,707.7 1254,707.7H1277.5Z" fill="#7e57c2"/>
<path d="M1277.5,691.1H1318.8Q1320.8,691.1 1320.8,693.1V705.7Q1320.8,707.7 1318.8,707.7H1277.5Z" fill="#7e57c2"/>
<text x="1257" y="703.5" font-size="12.3" fill="#fff" textLength="16" lengthAdjust="spacingAndGlyphs" font-weight="bold">RSI</text>
<text x="1286.4" y="703.5" font-size="12.3" fill="#fff" textLength="29" lengthAdjust="spacingAndGlyphs" font-weight="bold">35.25</text>
<path d="M1277.5,708.1H1200Q1198,708.1 1198,710.1V722.7Q1198,724.7 1200,724.7H1277.5Z" fill="#f9cf33"/>
<path d="M1277.5,708.1H1318.8Q1320.8,708.1 1320.8,710.1V722.7Q1320.8,724.7 1318.8,724.7H1277.5Z" fill="#f9cf33"/>
<text x="1202.5" y="720.2" font-size="12.3" fill="#131722" textLength="71" lengthAdjust="spacingAndGlyphs">RSI-based MA</text>
<text x="1286.4" y="720.2" font-size="12.3" fill="#131722" textLength="29" lengthAdjust="spacingAndGlyphs">32.48</text>
<text x="54.1" y="756" font-size="12" fill="#131722" textLength="26.2" lengthAdjust="spacingAndGlyphs" font-weight="bold" text-anchor="middle">2025</text>
<text x="162.3" y="756" font-size="12" fill="#131722" text-anchor="middle">Feb</text>
<text x="259.8" y="756" font-size="12" fill="#131722" text-anchor="middle">Mar</text>
<text x="367.7" y="756" font-size="12" fill="#131722" text-anchor="middle">Apr</text>
<text x="472.2" y="756" font-size="12" fill="#131722" text-anchor="middle">May</text>
<text x="580.1" y="756" font-size="12" fill="#131722" text-anchor="middle">Jun</text>
<text x="684.6" y="756" font-size="12" fill="#131722" text-anchor="middle">Jul</text>
<text x="792.5" y="756" font-size="12" fill="#131722" text-anchor="middle">Aug</text>
<text x="900.5" y="756" font-size="12" fill="#131722" text-anchor="middle">Sep</text>
<text x="1005.0" y="756" font-size="12" fill="#131722" text-anchor="middle">Oct</text>
<text x="1112.9" y="756" font-size="12" fill="#131722" text-anchor="middle">Nov</text>
<text x="1217.4" y="756" font-size="12" fill="#131722" text-anchor="middle">Dec</text>
<g>
<path d="M1196.5,537.2 A9.8,9.8 0 1,0 1202.9,543.5" fill="none" stroke="#9632ad" stroke-width="1.5"/>
<path d="M1196.4,540.6 L1188.8,547.6 L1193.2,547.6 L1189.8,552.4 L1197.8,545.4 L1193.4,545.4 Z" fill="#9632ad"/>
<circle cx="1200.3" cy="539.4" r="2.5" fill="#f23645"/>
</g>
<g fill="#131722">
<path d="M12.1,788.1 H23.7 V802.8 H18.2 V793.6 H12.1 Z"/>
<circle cx="28.9" cy="791" r="2.8"/>
<path d="M35.1,788.1 H41.8 L35.9,802.8 H29.1 Z"/>
</g>
<text x="48.5" y="803" font-size="20.5" fill="#131722" textLength="121.5" lengthAdjust="spacingAndGlyphs" font-weight="bold" stroke="#131722" stroke-width="0.45">TradingView</text>
</svg></body></html>
